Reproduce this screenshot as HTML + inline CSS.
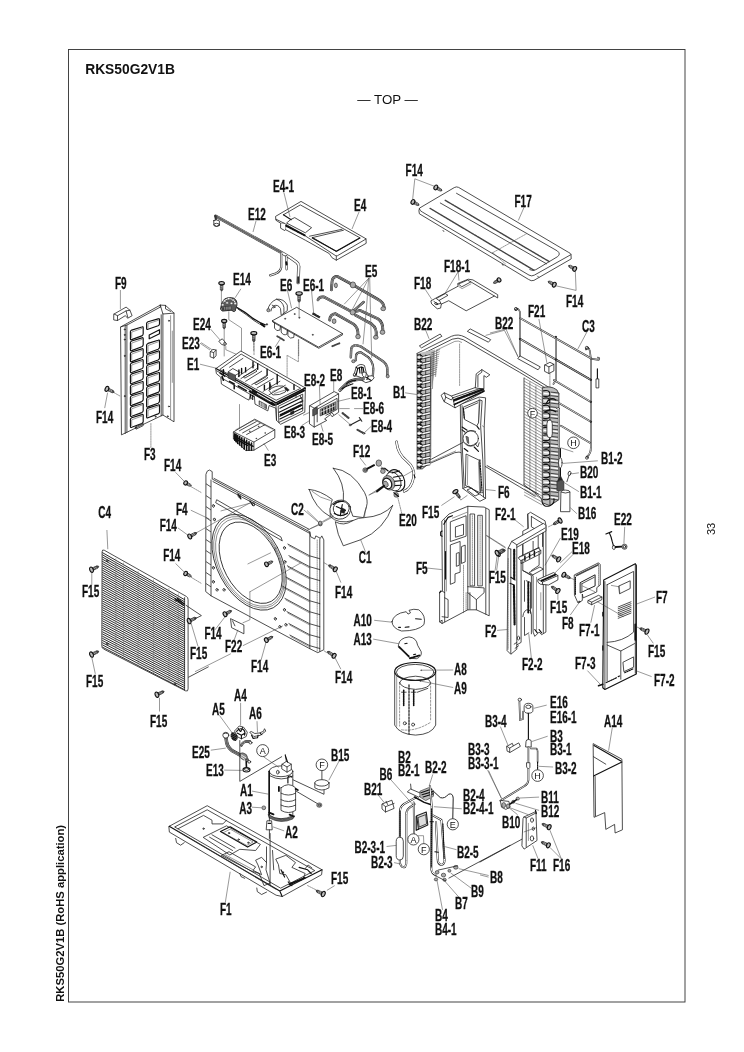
<!DOCTYPE html>
<html><head><meta charset="utf-8"><title>RKS50G2V1B</title>
<style>
html,body{margin:0;padding:0;background:#fff;}
body{width:744px;height:1052px;overflow:hidden;font-family:"Liberation Sans",sans-serif;}
svg{display:block;position:absolute;left:0;top:0;will-change:transform;}
svg text{font-family:"Liberation Sans",sans-serif;fill:#111;}
.l{fill:none;stroke:#222;stroke-width:0.8;stroke-linecap:round;stroke-linejoin:round;}
.t{fill:none;stroke:#444;stroke-width:0.55;stroke-linecap:round;stroke-linejoin:round;}
.k{fill:none;stroke:#111;stroke-width:1.15;stroke-linecap:round;stroke-linejoin:round;}
.w{fill:#fff;stroke:#222;stroke-width:0.8;stroke-linecap:round;stroke-linejoin:round;}
.wk{fill:#fff;stroke:#111;stroke-width:1.15;stroke-linecap:round;stroke-linejoin:round;}
.wt{fill:#fff;stroke:#444;stroke-width:0.55;stroke-linejoin:round;}
.g{fill:#aaa;stroke:#222;stroke-width:0.6;stroke-linejoin:round;}
.gg{fill:#ccc;stroke:#333;stroke-width:0.6;stroke-linejoin:round;}
.d{fill:#222;stroke:#222;stroke-width:0.4;}
.ld{fill:none;stroke:#444;stroke-width:0.55;}
.lb text{font-weight:bold;font-size:16px;stroke:#111;stroke-width:0.3;}
.cl{font-size:9.5px;text-anchor:middle;}
</style></head><body>
<svg width="744" height="1052" viewBox="0 0 744 1052">

<rect x="68.5" y="49.5" width="616.5" height="952.5" fill="none" stroke="#3a3a3a" stroke-width="0.95"/>
<text x="85.2" y="73.7" font-size="13.8" font-weight="bold">RKS50G2V1B</text>
<text x="357.3" y="103.9" font-size="13.3">— TOP —</text>
<text transform="translate(64.4,1001.8) rotate(-90)" font-size="11.25" font-weight="bold">RKS50G2V1B (RoHS application)</text>
<text transform="translate(715.2,535) rotate(-90)" font-size="11">33</text>
<g id="p01_e4">
<path class="w" d="M275.9,216.2 L301,201.4 L366,238.8 L366.2,243.3 L336.3,260.2 L332.1,257.8 L329.3,253.6 L305.3,240.2 L285.5,229.6 L284.8,230.6 L280.6,228.2 L280.6,223.2 L276.2,220.4 Z"/>
<path class="l" d="M276.2,219.3 L284.1,223.2 L305.3,235.9 L335.2,255.4 Q336.3,256.2 337.5,255.7 L366,239"/>
<path class="l" d="M336.3,256 L336.3,260.2"/>
<path class="t" d="M280.6,223.2 L284.1,223.2 M285.5,229.6 L285.8,225.3"/>
<path class="l" d="M283.4,214.8 L300.3,204.9 L360.3,238 L336.3,251.5 L312.3,237.3"/>
<path class="k" d="M283.4,214.8 L291.2,219.7"/>
<path class="l" d="M291.2,219.3 L294.7,217.6 L311.6,227.7 L305.3,232.8 L286.9,223.2 Z"/>
<path class="l" d="M309.5,236.2 L342,229.3 M312.3,237.6 L343.4,230.3"/>
<path class="k" d="M312.3,238 L336.3,251.2 L359.6,238"/>
<path class="k" d="M286.2,225.8 L305.3,235.6" style="stroke-dasharray:1 0.8;stroke-width:2"/>
<path class="ld" d="M284,193L290,217"/>
<path class="ld" d="M359,212L352,229"/>
</g>
<g id="p02_e12">
<path class="l" d="M215.6,216.1 L281.2,252.4 L289.7,257.3 L296.7,262.3 Q299.3,264.4 298.7,267.9 L298.1,282.7" style="stroke-width:3.2;stroke:#333"/>
<path class="l" d="M215.6,216.1 L281.2,252.4 L289.7,257.3 L296.7,262.3 Q299.3,264.4 298.7,267.9 L298.1,282.7" style="stroke-width:1.9;stroke:#fff"/>
<path class="l" d="M215.6,216.1 L281.2,252.4" style="stroke-width:2;stroke:#666;stroke-dasharray:0.6 1.1"/>
<path class="l" d="M281.2,252.8 L281.2,267.2 Q280.5,271.5 275.6,273.6 L270.2,275.4" style="stroke-width:2.2;stroke:#333"/>
<path class="l" d="M281.2,252.8 L281.2,267.2 Q280.5,271.5 275.6,273.6 L270.2,275.4" style="stroke-width:1;stroke:#fff"/>
<path class="l" d="M286.3,256.2 L286.6,269.3" style="stroke-width:2.2;stroke:#333"/>
<path class="l" d="M286.3,256.2 L286.6,269.3" style="stroke-width:1;stroke:#fff"/>
<path class="k" d="M286.3,262.3 L286.6,264.4" style="stroke-width:2"/>
<path class="k" d="M298.1,277.1 L298.1,282.7" style="stroke-width:1.6"/>
<path class="l" d="M215.6,216.1 L216,221.4" style="stroke-width:2.2;stroke:#333"/>
<path class="w" d="M213.8,220.6 L213.8,224.9 Q216.3,227.4 219.4,225.2 L219.4,220.9 Q216.6,219 213.8,220.6 Z"/>
<ellipse class="l" cx="216.6" cy="224.9" rx="2.8" ry="1.6"/>
<path class="ld" d="M256,221L253,232"/>
</g>
<g id="p03_f17">
<path class="w" d="M419.4,208.4 Q418.3,210.5 419.4,213.8 L528.5,279.4 Q531.2,281.5 533.9,280.4 L571.2,258.9 L571,254.6 Q570.4,253 568.8,252.5 L458.6,187.4 Q456.5,186.3 454.6,187.4 Z"/>
<path class="l" d="M419.4,208.9 Q419.9,211.1 422.6,212.2 L529,275.1 Q531.7,276.7 534.4,275.1 L571,254.6"/>
<path class="l" d="M456.5,193.3 L557.3,250.9 Q561.3,254.1 557.3,256.8 L535.8,269.7 Q533.1,271.3 529.8,269.7"/>
<path class="k" d="M445.2,200.3 L549.2,261.6" style="stroke-width:1.4;stroke:#444;stroke-dasharray:1.2 0.5"/>
<path class="l" d="M440.3,203 L546.5,263.8"/>
<path class="k" d="M430.1,208.4 L533.9,270.2" style="stroke-width:1.4;stroke:#444;stroke-dasharray:1.2 0.5"/>
<path class="t" d="M492.7,252.7 L526.3,233.9 M492.7,252.7 L505.4,263.8" style="stroke-dasharray:1 1"/>
<path class="l" d="M443,230.4 L443.8,231.5 M502.2,264.3 L503,265.4 M537.6,276.1 L538.7,277.2"/>
<g transform="translate(435.8,187.4) rotate(28)"><path d="M1,-1.3L5.5,-1.2L7,0L5.5,1.2L1,1.3Z" fill="#555" stroke="#222" stroke-width="0.7"/><path d="M3,-1.3L3.6,1.3M4.6,-1.3L5.2,1.3" stroke="#ddd" stroke-width="0.5" fill="none"/><ellipse cx="0" cy="0" rx="1.7" ry="2.5" fill="#bbb" stroke="#111" stroke-width="1.1"/></g>
<g transform="translate(412.9,201.9) rotate(28)"><path d="M1,-1.3L5.5,-1.2L7,0L5.5,1.2L1,1.3Z" fill="#555" stroke="#222" stroke-width="0.7"/><path d="M3,-1.3L3.6,1.3M4.6,-1.3L5.2,1.3" stroke="#ddd" stroke-width="0.5" fill="none"/><ellipse cx="0" cy="0" rx="1.7" ry="2.5" fill="#bbb" stroke="#111" stroke-width="1.1"/></g>
<g transform="translate(574.7,268.9) rotate(208)"><path d="M1,-1.3L5.5,-1.2L7,0L5.5,1.2L1,1.3Z" fill="#555" stroke="#222" stroke-width="0.7"/><path d="M3,-1.3L3.6,1.3M4.6,-1.3L5.2,1.3" stroke="#ddd" stroke-width="0.5" fill="none"/><ellipse cx="0" cy="0" rx="1.7" ry="2.5" fill="#bbb" stroke="#111" stroke-width="1.1"/></g>
<g transform="translate(554.3,284.7) rotate(208)"><path d="M1,-1.3L5.5,-1.2L7,0L5.5,1.2L1,1.3Z" fill="#555" stroke="#222" stroke-width="0.7"/><path d="M3,-1.3L3.6,1.3M4.6,-1.3L5.2,1.3" stroke="#ddd" stroke-width="0.5" fill="none"/><ellipse cx="0" cy="0" rx="1.7" ry="2.5" fill="#bbb" stroke="#111" stroke-width="1.1"/></g>
<path class="ld" d="M414.8,178.8 L434.4,186.3 M414.8,178.8 L412.6,199.8"/>
<path class="ld" d="M524.2,207 L518.3,220.5"/>
<path class="ld" d="M576.1,290.4 L575.3,270.8 M576.1,290.4 L555.9,285.8"/>
</g>
<g id="p04_f18">
<path class="w" d="M431.2,300.7 L437.3,297.3 L458.1,286.2 L457.7,283.5 L468.2,279.2 L472.9,279.9 L497.7,294.7 L497.7,298 L494.4,296 L466.2,310.8 L448.7,300.7 L441.3,304.1 L440.6,308.1 L437.3,308.8 L431.9,304.1 Z"/>
<path class="l" d="M470.9,281.9 L494.4,296"/>
<path class="l" d="M436.6,298.3 L445.3,293.6 L448,295.3 L439.3,300.3 Z"/>
<path class="l" d="M458.8,283.9 L467.5,280.1 L470.9,281.9 L462.1,286.6 Z"/>
<path class="l" d="M439.3,300.3 L441.3,304.1 M433.9,301.4 L437.9,304.1 L440.6,303.4"/>
<ellipse class="l" cx="436.2" cy="303.7" rx="1.6" ry="0.9" transform="rotate(20 436.2 303.7)"/>
<path class="t" d="M458.8,286.6 L462.1,288.6 L470.9,283.9"/>
<g transform="translate(499.1,279.9) rotate(150)"><path d="M1,-1.3L5,-1.2L6.5,0L5,1.2L1,1.3Z" fill="#555" stroke="#222" stroke-width="0.7"/><path d="M3,-1.3L3.6,1.3M4.6,-1.3L5.2,1.3" stroke="#ddd" stroke-width="0.5" fill="none"/><ellipse cx="0" cy="0" rx="1.7" ry="2.2" fill="#bbb" stroke="#111" stroke-width="1.1"/></g>
<path class="ld" d="M458.1,271.8 L445.3,292.9 M458.1,271.8 L459,280.5"/>
<path class="ld" d="M425.2,289.3 L431.9,299.6"/>
</g>
<g id="p05_e14">
<path class="t" d="M221.4,291.5 L221.4,309 M228.8,311.7 L228.8,319.7 L241.5,328.1 L241.5,364.1 M224.2,329.1 L224.2,356"/>
<g transform="translate(221.6,283.2) rotate(90)"><path d="M1,-1.3L6.5,-1.2L8,0L6.5,1.2L1,1.3Z" fill="#555" stroke="#222" stroke-width="0.7"/><path d="M3,-1.3L3.6,1.3M4.6,-1.3L5.2,1.3" stroke="#ddd" stroke-width="0.5" fill="none"/><ellipse cx="0" cy="0" rx="1.7" ry="2.8" fill="#bbb" stroke="#111" stroke-width="1.1"/></g>
<g transform="translate(224.2,321.1) rotate(90)"><path d="M1,-1.3L6.5,-1.2L8,0L6.5,1.2L1,1.3Z" fill="#555" stroke="#222" stroke-width="0.7"/><path d="M3,-1.3L3.6,1.3M4.6,-1.3L5.2,1.3" stroke="#ddd" stroke-width="0.5" fill="none"/><ellipse cx="0" cy="0" rx="1.7" ry="2.6" fill="#bbb" stroke="#111" stroke-width="1.1"/></g>
<g transform="translate(253.8,333.2) rotate(90)"><path d="M1,-1.3L7.5,-1.2L9,0L7.5,1.2L1,1.3Z" fill="#555" stroke="#222" stroke-width="0.7"/><path d="M3,-1.3L3.6,1.3M4.6,-1.3L5.2,1.3" stroke="#ddd" stroke-width="0.5" fill="none"/><ellipse cx="0" cy="0" rx="1.7" ry="3" fill="#bbb" stroke="#111" stroke-width="1.1"/></g>
<path class="t" d="M253.8,342.6 L253.8,350.6" style="stroke-dasharray:2 1.2"/>
<path class="g" d="M220.6,309 Q221,302.1 224.7,298.9 Q228.7,296.5 233.5,298.1 Q237.6,300.1 236.9,305.3 L235.8,309 L234,311.6 L231.1,310.2 L225.5,310.8 L222.3,311.1 Z" style="fill:#5a5a5a;stroke-width:0.9"/>
<path class="l" d="M223.1,302.1 Q225.5,298.5 229.9,298.5 Q234.4,299 235.6,302.9" style="stroke:#fff;stroke-width:1"/>
<ellipse class="wt" cx="224.7" cy="300.9" rx="1.4" ry="1.1"/>
<ellipse class="wt" cx="228.7" cy="298.7" rx="1.4" ry="1.1"/>
<ellipse class="wt" cx="233.1" cy="300.1" rx="1.4" ry="1.1"/>
<ellipse class="wt" cx="235.2" cy="303.7" rx="1.4" ry="1.1"/>
<ellipse class="wt" cx="222.7" cy="304.9" rx="1.4" ry="1.1"/>
<ellipse class="wt" cx="227.1" cy="302.9" rx="1.4" ry="1.1"/>
<ellipse class="wt" cx="231.5" cy="303.3" rx="1.4" ry="1.1"/>
<path class="g" d="M223.9,306.5 L223.9,310.2 L231.1,309.8 L231.1,306.1 Z" style="fill:#999;stroke-width:0.5"/>
<path class="l" d="M225.5,306.5 L225.5,310.2 M227.1,306.4 L227.1,310 M228.9,306.3 L228.9,309.9" style="stroke:#333;stroke-width:0.7"/>
<ellipse class="w" cx="221.9" cy="309" rx="1" ry="1.1"/>
<ellipse class="w" cx="234.2" cy="310.6" rx="1" ry="1"/>
<path class="k" d="M237.1,307.6 Q244.9,311.7 253,318.4 Q259.7,323.1 265.3,324.8" style="stroke-width:1.3"/>
<path class="l" d="M238.2,309.2 Q246.2,314.4 254.3,320.8 Q259.7,324.4 263.7,326.2"/>
<path class="k" d="M261,323.8 L264.4,326.5" style="stroke-width:2"/>
<ellipse class="d" cx="266.9" cy="324.4" rx="0.8" ry="0.8"/>
<path class="w" d="M219.1,341 L222.3,338.8 L226.1,343.3 L225,345.3 L222,344.6 Z"/>
<ellipse class="g" cx="225" cy="343.7" rx="1.2" ry="1.6" transform="rotate(-30 225 343.7)"/>
<path class="ld" d="M240.9,288.8 L235.1,297.8"/>
<path class="ld" d="M210.6,329.1 L220,339.9"/>
<path class="ld" d="M201.2,342.6 L213.3,350.6"/>
</g>
<g id="p06_e6">
<path class="w" d="M267.8,309.7 Q269.1,302.6 276.5,299.2 Q283.9,298.5 287.3,305.2 L287.3,310.6 L281.2,315.3 L280.5,308.6 Q277.8,303.9 273.8,305.9 Q271.1,307.9 270.9,311"/>
<path class="l" d="M276.5,299.2 Q282.6,301.2 283.9,307.3 L283.9,313.3"/>
<ellipse class="g" cx="268.4" cy="310.2" rx="1.6" ry="1.6"/>
<path class="l" d="M272.2,305.2 L275.2,306.6 M273.1,307.9 L275.2,307.3"/>
<path class="l" d="M274.5,322.7 L274.5,328.1 Q276.5,332.1 279.9,330.1 L280.5,326.1 M281.2,326.7 L281.2,332.1 Q283.5,336.2 287,334.1 L287.3,330.1 M287.9,330.4 L287.9,335.8 Q290.2,339.5 293.7,337.5 L294.2,333.9"/>
<path class="w" d="M272.5,320.7 L296.7,307.3 L342.4,333.5 L318.8,346.9 Z"/>
<path class="l" d="M272.5,320.7 L272.7,322 L318.8,348.3 L342.6,334.8 L342.4,333.5"/>
<ellipse class="d" cx="285.2" cy="318.7" rx="0.8" ry="0.5"/>
<ellipse class="d" cx="294.7" cy="314" rx="0.8" ry="0.5"/>
<ellipse class="d" cx="312.8" cy="334.8" rx="0.8" ry="0.5"/>
<ellipse class="d" cx="299.4" cy="317.7" rx="0.8" ry="0.5"/>
<g transform="translate(299.1,293.5) rotate(90)"><path d="M1,-1.3L7.5,-1.2L9,0L7.5,1.2L1,1.3Z" fill="#555" stroke="#222" stroke-width="0.7"/><path d="M3,-1.3L3.6,1.3M4.6,-1.3L5.2,1.3" stroke="#ddd" stroke-width="0.5" fill="none"/><ellipse cx="0" cy="0" rx="1.7" ry="3.2" fill="#bbb" stroke="#111" stroke-width="1.1"/></g>
<path class="t" d="M299.1,303.2L299.1,316.9"/>
<path class="l" d="M312.5,314 L319.2,317.7 M313.1,313 L319.8,316.8" style="stroke-dasharray:1 0.7;stroke-width:1.1"/>
<path class="l" d="M277.2,336.2 L283.9,340.2" style="stroke-dasharray:1 0.7;stroke-width:1.8;stroke:#444"/>
<path class="l" d="M332.3,346.2 L339.4,343.3" style="stroke-dasharray:1 0.7;stroke-width:1.8;stroke:#444"/>
<path class="ld" d="M287.3,289.8 L291.6,308.2"/>
<path class="ld" d="M311.5,290.5 L313.7,313.3"/>
<path class="ld" d="M275.2,346.9 L280.1,339.2"/>
<path class="t" d="M298.7,339.5 L298.7,355.6" style="stroke-dasharray:1.5 1"/>
</g>
<g id="p07_e5">
<path class="ld" d="M369.1,277.8 L344.2,304.2 M369.1,277.8 L351.2,311.6 M368.7,277.8 L366.4,309.4 L363,344.3 M369.7,277.8 L370.4,309.4 L371.7,357.7"/>
<path class="l" d="M331.4,289.9 L332.1,281.1 Q332.8,276.4 337.5,276.4 L353.6,285.2 L377.8,299.3 Q383.8,302.6 384.2,307.3" style="stroke-width:2.8;stroke:#222"/>
<path class="l" d="M331.4,289.9 L332.1,281.1 Q332.8,276.4 337.5,276.4 L353.6,285.2 L377.8,299.3 Q383.8,302.6 384.2,307.3" style="stroke-width:1.4999999999999998;stroke:#fff"/>
<path class="l" d="M331.4,289.9 L332.1,281.1 Q332.8,276.4 337.5,276.4 L353.6,285.2 L377.8,299.3 Q383.8,302.6 384.2,307.3" style="stroke-width:1.5999999999999999;stroke:#666;stroke-dasharray:0.6 1.1"/>
<ellipse class="g" cx="352.9" cy="284.9" rx="2.7" ry="3"/>
<ellipse class="g" cx="383.2" cy="308.7" rx="2.4" ry="2"/>
<ellipse class="g" cx="335.9" cy="285.4" rx="1.5" ry="2.4"/>
<path class="l" d="M318,299.9 Q319.3,296.2 324,297 L352.3,312" style="stroke-width:2.8;stroke:#222"/>
<path class="l" d="M318,299.9 Q319.3,296.2 324,297 L352.3,312" style="stroke-width:1.4999999999999998;stroke:#fff"/>
<path class="l" d="M318,299.9 Q319.3,296.2 324,297 L352.3,312" style="stroke-width:1.5999999999999999;stroke:#666;stroke-dasharray:0.6 1.1"/>
<path class="l" d="M352.9,311.4 L363.7,302" style="stroke-width:2.4;stroke:#222"/>
<path class="l" d="M352.9,311.4 L363.7,302" style="stroke-width:1.0999999999999999;stroke:#fff"/>
<path class="l" d="M352.9,311.4 L363.7,302" style="stroke-width:1.2;stroke:#666;stroke-dasharray:0.6 1.1"/>
<path class="l" d="M353.6,312 L360.3,310.4 L377.8,318.8 Q383.2,322.1 382.9,330.9" style="stroke-width:2.8;stroke:#222"/>
<path class="l" d="M353.6,312 L360.3,310.4 L377.8,318.8 Q383.2,322.1 382.9,330.9" style="stroke-width:1.4999999999999998;stroke:#fff"/>
<path class="l" d="M353.6,312 L360.3,310.4 L377.8,318.8 Q383.2,322.1 382.9,330.9" style="stroke-width:1.5999999999999999;stroke:#666;stroke-dasharray:0.6 1.1"/>
<ellipse class="g" cx="352.7" cy="312.3" rx="2.6" ry="2.7"/>
<ellipse class="g" cx="382.5" cy="332.2" rx="2.4" ry="2.2"/>
<path class="l" d="M329.7,320.1 Q330.1,314.1 335.5,313.7 L353.6,324.1 Q358.3,327.5 358,334.9" style="stroke-width:2.8;stroke:#222"/>
<path class="l" d="M329.7,320.1 Q330.1,314.1 335.5,313.7 L353.6,324.1 Q358.3,327.5 358,334.9" style="stroke-width:1.4999999999999998;stroke:#fff"/>
<path class="l" d="M329.7,320.1 Q330.1,314.1 335.5,313.7 L353.6,324.1 Q358.3,327.5 358,334.9" style="stroke-width:1.5999999999999999;stroke:#666;stroke-dasharray:0.6 1.1"/>
<ellipse class="g" cx="358" cy="336.6" rx="2.3" ry="2.2"/>
<ellipse class="g" cx="334.1" cy="321.2" rx="1.9" ry="2.4"/>
<path class="l" d="M355.2,315 L371.7,324.1 Q377.1,328.2 376.2,335.6" style="stroke-width:2.8;stroke:#222"/>
<path class="l" d="M355.2,315 L371.7,324.1 Q377.1,328.2 376.2,335.6" style="stroke-width:1.4999999999999998;stroke:#fff"/>
<path class="l" d="M355.2,315 L371.7,324.1 Q377.1,328.2 376.2,335.6" style="stroke-width:1.5999999999999999;stroke:#666;stroke-dasharray:0.6 1.1"/>
<ellipse class="g" cx="375.8" cy="337.3" rx="2.3" ry="2"/>
<path class="l" d="M350.8,357.4 L351.2,349.4 Q351.6,345.3 356.1,345.1 L360.4,346.3 L383,361.2 Q387.3,364.4 387.3,369.2 L387.3,374.6" style="stroke-width:2.4;stroke:#222"/>
<path class="l" d="M350.8,357.4 L351.2,349.4 Q351.6,345.3 356.1,345.1 L360.4,346.3 L383,361.2 Q387.3,364.4 387.3,369.2 L387.3,374.6" style="stroke-width:1.0999999999999999;stroke:#fff"/>
<path class="l" d="M350.8,357.4 L351.2,349.4 Q351.6,345.3 356.1,345.1 L360.4,346.3 L383,361.2 Q387.3,364.4 387.3,369.2 L387.3,374.6" style="stroke-width:1.2;stroke:#666;stroke-dasharray:0.6 1.1"/>
<ellipse class="g" cx="387.7" cy="376.2" rx="1.5" ry="1.7"/>
<ellipse class="g" cx="353.4" cy="361.2" rx="1.7" ry="1.5"/>
<path class="l" d="M355.8,360.3 L356.1,355.3 Q357,352 361,352.4 L368.5,357.4 Q373.3,362.3 373.3,368.7 L372.8,377.3" style="stroke-width:2.2;stroke:#222"/>
<path class="l" d="M355.8,360.3 L356.1,355.3 Q357,352 361,352.4 L368.5,357.4 Q373.3,362.3 373.3,368.7 L372.8,377.3" style="stroke-width:0.9000000000000001;stroke:#fff"/>
<path class="l" d="M355.8,360.3 L356.1,355.3 Q357,352 361,352.4 L368.5,357.4 Q373.3,362.3 373.3,368.7 L372.8,377.3" style="stroke-width:1.0000000000000002;stroke:#666;stroke-dasharray:0.6 1.1"/>
<path class="w" d="M353.8,375.7 L356.1,367.1 Q359.9,362.8 364.5,365.5 L366.3,373 L368.2,376.2 L372.3,375.7 L374.2,377.8 L371.2,381.1 L365.8,382.7 L362,380.5 L360.4,377.3 L357.2,376.2 Z"/>
<path class="k" d="M356.1,367.1 L357.7,368.7 L356.1,375.2 M357.7,368.7 Q360.4,366 363.1,367.6 L364.2,374.1 M359.4,367.6 L359.9,373 M361.5,367.1 L362,372.5"/>
<path class="w" d="M362,373 Q364.2,370.9 366.3,373 Q366.9,376.2 364.2,377.3 Q362,376.2 362,373 Z"/>
<path class="k" d="M365.8,377.3 L371.2,380.5 M368.2,376.2 L366.9,379.5"/>
<ellipse class="w" cx="354.5" cy="374.6" rx="1.1" ry="1.5" transform="rotate(15 354.5 374.6)"/>
<path class="l" d="M363.1,378.9 L356.1,379.7 Q349.7,380.5 345.4,384.8 L340,390.2" style="stroke-width:3.2;stroke:#222"/>
<path class="l" d="M363.1,378.9 L356.1,379.7 Q349.7,380.5 345.4,384.8 L340,390.2" style="stroke-width:1.9000000000000001;stroke:#fff"/>
<path class="l" d="M363.1,378.9 L356.1,379.7 Q349.7,380.5 345.4,384.8 L340,390.2" style="stroke-width:2.0;stroke:#666;stroke-dasharray:0.6 1.1"/>
<path class="k" d="M346.5,383.8 Q349.7,380.5 356.1,380.5 M342.2,388.6 Q346.5,385.9 352.9,383.8" style="stroke-dasharray:1.2 1"/>
</g>
<g id="p08_e1">
<path class="w" d="M210.5,351.6 L212.9,349.4 L216.1,350 L216.1,355.8 L213.7,358.1 L210.5,356.9 Z"/>
<path class="l" d="M210.5,351.6 L213.7,352.6 L216.1,350 M213.7,352.6 L213.7,358.1"/>
<path class="ld" d="M200,343.2 L210,350 M200,364.2 L216.1,368.2"/>
<path class="t" d="M225.8,346.5 L225.8,349.7 L240.3,356.1 L240.3,364.2"/>
<path class="t" d="M239.5,404.5 L239.5,430.3"/>
<path class="t" d="M254,343.2 L254,355.3" style="stroke-dasharray:1.5 1"/>
<path class="t" d="M298.4,340 L298.4,361.8 L287.1,355.3 L287.1,376.3" style="stroke-dasharray:1.5 1"/>
<path class="w" d="M216,368.5 L240.9,351 L305.4,388 L304.8,412.2 L280.6,424.3 L276.5,420.3 L275.9,408.2 L269.1,405.5 L267.8,410.9 L255,404.1 L254.4,396.7 L250.3,394.7 L249,400.1 L246.3,398.8 L221.4,384 L220.8,377.3 L216.7,373.9 Z"/>
<path class="k" d="M216,368.5 L275.9,402.8 L305.4,388" style="stroke-width:1.4"/>
<path class="l" d="M220.1,369.2 L241.2,354.1 L300.7,388.3 L276.5,400.1 Z"/>
<path class="l" d="M216.7,370.8 L275.9,405.2 L305.2,390.4"/>
<path class="l" d="M275.9,402.8 L276.5,420.3 M221.4,377.9 L254.4,396.7"/>
<path class="k" d="M223.4,369.9 L223.4,373.9 M220.1,373.2 L224.8,376.2 M222.1,376.6 L223.4,380.2" style="stroke-width:1.6"/>
<path class="g" d="M228.1,371.9 L228.1,377.9 L235.5,381.3 L235.5,375.2 Z" style="fill:#555"/>
<path class="l" d="M228.1,371.9 L232.8,368.5 L240.2,372.6 L235.5,375.2"/>
<path class="l" d="M229.5,367.2 L242.9,358.4 M238.2,376.6 L254.4,365.2 M240.9,378.6 L242.9,377.3 L257,368.5 M245.6,381.3 L261.7,371.2 M251.7,384.7 L267.1,375.2 M257,388 L273.2,378.6 M263.1,391.4 L279.9,381.3 M269.1,394.7 L285.3,385.3"/>
<path class="l" d="M243.6,376.6 L255.7,369.9 L257,371.2 L245.2,377.9 Z M255,383.3 L266.5,376.6 L267.8,377.9 L256.4,384.7 Z"/>
<path class="k" d="M238.9,369.9 L238.9,376.6 M241.6,368.5 L241.6,373.2 M245.6,367.8 L245.6,371.9 M253,361.8 L253,367.8 M257.7,363.8 L257.7,369.2 M267.1,369.2 L267.1,375.2 M269.8,382.6 L269.8,389.4 M264.4,385.3 L264.4,389.4 M277.2,374.6 L277.2,384 M294,384.7 L294,389.4" style="stroke-width:1.4"/>
<path class="l" d="M269.1,390 Q274.5,385.3 282.6,386 Q287.3,388.7 285.3,392 Q279.9,395.4 273.2,395 Z"/>
<path class="t" d="M272.5,391.4 L282.6,387.3 M274.5,393.4 L285.3,390"/>
<path class="d" d="M284.6,388 L287.3,391.4 L289.3,390 L285.9,386.9 Z"/>
<path class="d" d="M270.5,384 L271.6,387.3 L269.8,388 Z"/>
<path class="k" d="M229.5,381.3 L234.2,384 M234.2,385.3 L234.2,388.7 M238.2,386 L246.3,390.7" style="stroke-width:1.5"/>
<path class="k" d="M249.7,391.4 L273.2,404.8" style="stroke-width:2"/>
<path class="k" d="M250.3,394.1 L251,398.8 M252.7,395.4 L252.7,399.4"/>
<path class="g" d="M259.1,400.8 L266.5,404.8 L266.5,408.8 L259.1,404.8 Z" style="fill:#777"/>
<path class="l" d="M260.4,402.1 L260.4,406.2 M262.2,403.1 L262.2,407.1 M263.8,403.9 L263.8,407.9" style="stroke:#fff;stroke-width:0.6"/>
<path class="k" d="M253,390.7 L256.4,392.7 M271.2,402.8 L274.5,404.8" style="stroke-width:2.2"/>
<path class="l" d="M278.5,406.2 L302.7,394.1 L302.7,410.9 L279.2,422.3 Z"/>
<path class="k" d="M279.9,408.2 L301.4,397.7 M279.2,412.2 L302.7,400.8 M279.9,416.2 L302.1,405.2 M279.9,418.9 L302.7,407.9"/>
<path class="k" d="M280.6,414.9 L301.4,404.8" style="stroke-width:2;stroke-dasharray:1 0.8"/>
<path class="k" d="M277.2,404.1 L304.1,390.4" style="stroke-width:1.8"/>
<path class="l" d="M300.1,395.4 L302.7,401.5 L300.3,402.8 M296,393.4 L296,397.4"/>
<path class="d" d="M290.6,411.9 L294,410.6 L294,413.5 L290.6,414.9 Z"/>
</g>
<g id="p09_e3">
<path class="w" d="M233.7,431.8 L254.7,419.2 L274.8,429.7 L274.8,437.7 L253.9,450.2 L245.8,450.6 L233.7,439.4 Z"/>
<path class="l" d="M233.7,431.8 L253.9,442.1 L274.8,429.7 M253.9,442.1 L253.9,450.2"/>
<path class="l" d="M239.4,430.8 L256.3,421.6 M246.6,434.5 L264.8,424.8 M242.6,432.9 L260.3,423.2"/>
<path class="t" d="M235.8,429.7 L254.7,420 L272.4,429.2"/>
<path class="k" d="M234.8,433.7 L234.8,440.2 M236.1,434.5 L236.1,441.8 M237.7,435.6 L237.7,443.4 M239.7,436.6 L239.7,445 M241.8,437.9 L241.8,446.9 M244.2,438.9 L244.2,449 M246.6,440.2 L246.6,450.3 M249,441.8 L249,450.3 M251.5,443.1 L251.5,450.3" style="stroke-width:1.6"/>
<path class="k" d="M234.2,436.1 L253.1,446.3 M234.2,438.2 L247.4,445.3" style="stroke-width:1.5"/>
<ellipse class="d" cx="249.8" cy="431.3" rx="0.5" ry="0.5"/>
<ellipse class="d" cx="258.7" cy="426.5" rx="0.5" ry="0.5"/>
<ellipse class="d" cx="256.3" cy="438.5" rx="0.5" ry="0.5"/>
<ellipse class="d" cx="265.2" cy="432.9" rx="0.5" ry="0.5"/>
<path class="ld" d="M268.4,450.6 L263.9,443.4"/>
</g>
<g id="p10_e8">
<path class="w" d="M309.8,405.7 L334.2,391.6 L338.6,393.8 L338.6,412.3 L332,416.7 L330.5,414.5 L324.6,419 L326.8,420.4 L314.2,427.1 L309.8,424.1 Z"/>
<path class="l" d="M309.8,405.7 L314.2,408.2 L338.6,393.8 M314.2,408.2 L314.2,427.1"/>
<path class="l" d="M314.2,410.8 L337.1,398.3 L337.1,409.4 L329.7,413.5 M317.2,421.9 L317.2,409.4"/>
<path class="g" d="M312.7,409.4 L317.2,407.1 L317.2,413.8 L312.7,416 Z" style="fill:#555"/>
<path class="g" d="M320.1,409.4 L335.7,401.7 L335.7,409.4 L320.1,416 Z" style="fill:#999"/>
<path class="k" d="M322.4,409.4 L322.4,414.5 M325.3,407.9 L325.3,413.5 M328.3,406.4 L328.3,412 M331.2,404.9 L331.2,410.8 M333.7,403.7 L333.7,409.7"/>
<path class="k" d="M320.9,412 L334.9,405.7" style="stroke:#fff;stroke-width:0.7"/>
<path class="l" d="M326,415.3 L331.2,412.6 L333.7,414.5"/>
<path class="l" d="M342.6,413.1 L348.5,417.9" style="stroke-width:2.2;stroke:#444;stroke-dasharray:0.8 0.6"/>
<path class="l" d="M350.4,424.9 L360.8,419.4 M359.3,417.5 L361.8,421.2" style="stroke-width:1.1"/>
<ellipse class="w" cx="350.1" cy="425" rx="0.9" ry="0.9"/>
<path class="l" d="M357.4,429.8 L363.3,433" style="stroke-width:2;stroke:#444;stroke-dasharray:0.8 0.6"/>
<ellipse class="w" cx="363.9" cy="433.3" rx="0.9" ry="0.9"/>
<path class="ld" d="M319.4,385 L320.1,404.9 M333.7,379.8 L333.7,391.9 M350.4,398.3 L337.1,401.5 M363,408.6 L354.1,408.6 M349.7,408.6 L339.4,408.6 M371.1,426.4 L364.8,432.3 M323.1,431.5 L320.9,424.1 M301.7,425.6 L309.8,420.4 M303.1,415.3 L309.8,412.3 M338.6,414.5 L349.7,424.1"/>
</g>
<g id="p11_f3">
<path class="w" d="M120.9,326.8 L160.3,305.1 L165.5,305.4 L174,313.1 L174,421.8 L162.9,415 L121.8,434.7 Z"/>
<path class="l" d="M162.9,314 L162.9,415 M161.2,314.8 L161.2,415.8 M160.3,305.1 L162.9,314 L174,313.1 M126.9,325.1 L126.9,432.4 M125.2,325.9 L125.2,433.5 M120.9,326.8 L126.9,325.1 L160.3,307.1"/>
<path class="t" d="M170.6,315.7 L170.6,419.2 M172.3,331.1 L172.3,382.4"/>
<path class="l" d="M165.5,305.4 L165.5,308.8 L170.6,311.4 M160.3,305.1 L160.3,307.1"/>
<path class="k" d="M130.4,331.8 Q130.4,330.7 131.7,330.1 L141.8,327 Q143.2,326.3 143.2,327.7 L143.2,333.8 Q143.2,335.2 141.8,335.9 L131.7,339.6 Q130.4,340.3 130.4,339 Z"/>
<path class="t" d="M131.7,337.9 L131.7,332.1 L142.2,328.3"/>
<path class="k" d="M130.4,342.7 Q130.4,341.7 131.7,341 L141.8,337.9 Q143.2,337.2 143.2,338.6 L143.2,344.8 Q143.2,346.1 141.8,346.8 L131.7,350.6 Q130.4,351.3 130.4,349.9 Z"/>
<path class="t" d="M131.7,348.9 L131.7,343.1 L142.2,339.3"/>
<path class="k" d="M130.4,353.7 Q130.4,352.7 131.7,352 L141.8,348.9 Q143.2,348.2 143.2,349.6 L143.2,355.7 Q143.2,357.1 141.8,357.8 L131.7,361.6 Q130.4,362.2 130.4,360.9 Z"/>
<path class="t" d="M131.7,359.8 L131.7,354 L142.2,350.3"/>
<path class="k" d="M130.4,364.6 Q130.4,363.6 131.7,362.9 L141.8,359.8 Q143.2,359.2 143.2,360.5 L143.2,366.7 Q143.2,368.1 141.8,368.7 L131.7,372.5 Q130.4,373.2 130.4,371.8 Z"/>
<path class="t" d="M131.7,370.8 L131.7,365 L142.2,361.2"/>
<path class="k" d="M130.4,375.6 Q130.4,374.6 131.7,373.9 L141.8,370.8 Q143.2,370.1 143.2,371.5 L143.2,377.6 Q143.2,379 141.8,379.7 L131.7,383.5 Q130.4,384.2 130.4,382.8 Z"/>
<path class="t" d="M131.7,381.8 L131.7,375.9 L142.2,372.2"/>
<path class="k" d="M130.4,386.5 Q130.4,385.5 131.7,384.8 L141.8,381.8 Q143.2,381.1 143.2,382.4 L143.2,388.6 Q143.2,390 141.8,390.7 L131.7,394.4 Q130.4,395.1 130.4,393.7 Z"/>
<path class="t" d="M131.7,392.7 L131.7,386.9 L142.2,383.1"/>
<path class="k" d="M130.4,397.5 Q130.4,396.5 131.7,395.8 L141.8,392.7 Q143.2,392 143.2,393.4 L143.2,399.6 Q143.2,400.9 141.8,401.6 L131.7,405.4 Q130.4,406.1 130.4,404.7 Z"/>
<path class="t" d="M131.7,403.7 L131.7,397.8 L142.2,394.1"/>
<path class="k" d="M130.4,408.5 Q130.4,407.4 131.7,406.7 L141.8,403.7 Q143.2,403 143.2,404.4 L143.2,410.5 Q143.2,411.9 141.8,412.6 L131.7,416.3 Q130.4,417 130.4,415.6 Z"/>
<path class="t" d="M131.7,414.6 L131.7,408.8 L142.2,405"/>
<path class="k" d="M130.4,419.4 Q130.4,418.4 131.7,417.7 L141.8,414.6 Q143.2,413.9 143.2,415.3 L143.2,421.5 Q143.2,422.8 141.8,423.5 L131.7,427.3 Q130.4,428 130.4,426.6 Z"/>
<path class="t" d="M131.7,425.6 L131.7,419.8 L142.2,416"/>
<path class="k" d="M146.6,345.1 Q146.6,344.1 148,343.4 L158.1,340.3 Q159.5,339.6 159.5,341 L159.5,347.2 Q159.5,348.5 158.1,349.2 L148,353 Q146.6,353.7 146.6,352.3 Z"/>
<path class="t" d="M148,351.3 L148,345.5 L158.4,341.7"/>
<path class="k" d="M146.6,355.9 Q146.6,354.9 148,354.2 L158.1,351.1 Q159.5,350.4 159.5,351.8 L159.5,358 Q159.5,359.3 158.1,360 L148,363.8 Q146.6,364.5 146.6,363.1 Z"/>
<path class="t" d="M148,362.1 L148,356.2 L158.4,352.5"/>
<path class="k" d="M146.6,366.7 Q146.6,365.7 148,365 L158.1,361.9 Q159.5,361.2 159.5,362.6 L159.5,368.7 Q159.5,370.1 158.1,370.8 L148,374.6 Q146.6,375.2 146.6,373.9 Z"/>
<path class="t" d="M148,372.9 L148,367 L158.4,363.3"/>
<path class="k" d="M146.6,377.5 Q146.6,376.4 148,375.8 L158.1,372.7 Q159.5,372 159.5,373.4 L159.5,379.5 Q159.5,380.9 158.1,381.6 L148,385.3 Q146.6,386 146.6,384.7 Z"/>
<path class="t" d="M148,383.6 L148,377.8 L158.4,374.1"/>
<path class="k" d="M146.6,388.3 Q146.6,387.2 148,386.5 L158.1,383.5 Q159.5,382.8 159.5,384.2 L159.5,390.3 Q159.5,391.7 158.1,392.4 L148,396.1 Q146.6,396.8 146.6,395.4 Z"/>
<path class="t" d="M148,394.4 L148,388.6 L158.4,384.8"/>
<path class="k" d="M146.6,399 Q146.6,398 148,397.3 L158.1,394.3 Q159.5,393.6 159.5,394.9 L159.5,401.1 Q159.5,402.5 158.1,403.2 L148,406.9 Q146.6,407.6 146.6,406.2 Z"/>
<path class="t" d="M148,405.2 L148,399.4 L158.4,395.6"/>
<path class="k" d="M146.6,409.8 Q146.6,408.8 148,408.1 L158.1,405 Q159.5,404.4 159.5,405.7 L159.5,411.9 Q159.5,413.3 158.1,413.9 L148,417.7 Q146.6,418.4 146.6,417 Z"/>
<path class="t" d="M148,416 L148,410.2 L158.4,406.4"/>
<path class="k" d="M146.6,323.4 Q146.6,322.4 148,321.7 L158.1,318.9 Q159.5,318.2 159.5,319.6 L159.5,323.7 Q159.5,325.1 158.1,325.8 L148,329.2 Q146.6,329.9 146.6,328.5 Z"/>
<path class="t" d="M148,327.5 L148,323.7 L158.4,320.3"/>
<path class="k" d="M149.2,334.9 L159.5,329.7 L159.5,333.7 L151.8,337.6 L149.2,338.8 Z"/>
<ellipse class="l" cx="124.7" cy="329.4" rx="0.5" ry="0.5"/>
<ellipse class="l" cx="124.7" cy="334.9" rx="0.5" ry="0.5"/>
<ellipse class="l" cx="124.7" cy="339.6" rx="0.5" ry="0.5"/>
<ellipse class="l" cx="124.7" cy="355.9" rx="0.5" ry="0.5"/>
<ellipse class="l" cx="124.7" cy="396.1" rx="0.5" ry="0.5"/>
<ellipse class="l" cx="168.9" cy="320.8" rx="0.5" ry="0.5"/>
<ellipse class="l" cx="168.9" cy="406.4" rx="0.5" ry="0.5"/>
<ellipse class="l" cx="167.7" cy="416.3" rx="0.5" ry="0.5"/>
<ellipse class="l" cx="155.5" cy="416.7" rx="0.5" ry="0.5"/>
<ellipse class="l" cx="135.8" cy="427.8" rx="0.5" ry="0.5"/>
<path class="l" d="M135.5,426.9 L143.2,423.5 L143.2,425.6 L136.4,429 Z"/>
<path class="w" d="M114.1,314 L126.1,307.1 L129.9,310.2 L132.1,315.7 L127.8,318.2 L125.2,315.7 L117.5,320.5 L114.1,320 Z"/>
<path class="l" d="M114.1,314 L117.5,315.7 L117.5,320.5 M117.5,315.7 L126.1,310.9 L129.9,310.2 M126.1,310.9 L127.8,317.4"/>
<path class="ld" d="M120.4,290 L120.4,309.2"/>
<g transform="translate(106.9,388.9) rotate(25)"><path d="M1,-1.3L6.5,-1.2L8,0L6.5,1.2L1,1.3Z" fill="#555" stroke="#222" stroke-width="0.7"/><path d="M3,-1.3L3.6,1.3M4.6,-1.3L5.2,1.3" stroke="#ddd" stroke-width="0.5" fill="none"/><ellipse cx="0" cy="0" rx="1.7" ry="2.6" fill="#bbb" stroke="#111" stroke-width="1.1"/></g>
<path class="t" d="M114.1,392.7 L120.1,396.1" style="stroke-dasharray:1.5 1"/>
<path class="ld" d="M107.6,392.7 L104.7,408.1"/>
<path class="t" d="M150.9,423.5 L150.9,448.3" style="stroke-dasharray:1.5 1"/>
</g>
<g id="p12_b1">
<path class="l" d="M417.1,353.4 L451.4,336.3 Q458.2,333.4 465,337.1 L519.8,369.6 L559.2,393.6"/>
<path class="l" d="M419.7,355.4 L452.2,339.2 Q458.2,336.8 463.7,339.9 L519.8,372.4 L557.5,395.3"/>
<path class="t" d="M436.8,350 L454.8,341.4 Q458.2,340.2 461.6,342.3"/>
<path class="l" d="M417.1,468.9 L454.8,452.7 Q459.1,451 463.3,453.5 L519.8,486.9 L535.2,496.3"/>
<path class="t" d="M430,462.4 L455.6,451"/>
<path class="w" d="M419.7,345.7 L440.2,334 L441.9,336.3 L421.9,347.7 Z"/>
<path class="w" d="M467.6,331.1 L470.2,328.9 L490.7,339.7 L488.7,341.9 Z"/>
<path class="g" d="M417.1,353.4 L435.1,349.4 L434.2,376.5 L430.5,391.9 L430,462.4 L422.3,468.9 L417.1,468.9 Z" style="fill:#bdbdbd;stroke:none"/>
<path class="l" d="M417.1,353.4 L417.1,468.9 L422.3,468.9 L430,462.4 L430.8,356.8"/>
<path class="l" d="M420.5,354.2 L420.5,468.6 M425.7,355.1 L425.7,465.5"/>
<path class="k" d="M417.5,355.1 Q420.2,354.1 421.9,355.8 L421.9,358.9 Q420.2,360.2 417.5,359.2"/>
<path class="l" d="M422.6,356.5 L430,354.8 M422.6,358.9 L430,357.1"/>
<path class="l" d="M422.9,357.7 L429.4,355.9" style="stroke:#fff;stroke-width:1.2"/>
<path class="l" d="M418.1,357.1 L421.2,357.1" style="stroke:#fff;stroke-width:1.4"/>
<path class="k" d="M417.5,361.4 Q420.2,360.4 421.9,362.1 L421.9,365.2 Q420.2,366.6 417.5,365.5"/>
<path class="l" d="M422.6,362.8 L430,361.1 M422.6,365.2 L430,363.5"/>
<path class="l" d="M422.9,364 L429.4,362.3" style="stroke:#fff;stroke-width:1.2"/>
<path class="l" d="M418.1,363.5 L421.2,363.5" style="stroke:#fff;stroke-width:1.4"/>
<path class="k" d="M417.5,367.8 Q420.2,366.7 421.9,368.4 L421.9,371.5 Q420.2,372.9 417.5,371.9"/>
<path class="l" d="M422.6,369.1 L430,367.4 M422.6,371.5 L430,369.8"/>
<path class="l" d="M422.9,370.3 L429.4,368.6" style="stroke:#fff;stroke-width:1.2"/>
<path class="l" d="M418.1,369.8 L421.2,369.8" style="stroke:#fff;stroke-width:1.4"/>
<path class="k" d="M417.5,374.1 Q420.2,373.1 421.9,374.8 L421.9,377.9 Q420.2,379.2 417.5,378.2"/>
<path class="l" d="M422.6,375.5 L430,373.8 M422.6,377.9 L430,376.1"/>
<path class="l" d="M422.9,376.7 L429.4,375" style="stroke:#fff;stroke-width:1.2"/>
<path class="l" d="M418.1,376.1 L421.2,376.1" style="stroke:#fff;stroke-width:1.4"/>
<path class="k" d="M417.5,380.4 Q420.2,379.4 421.9,381.1 L421.9,384.2 Q420.2,385.6 417.5,384.5"/>
<path class="l" d="M422.6,381.8 L430,380.1 M422.6,384.2 L430,382.5"/>
<path class="l" d="M422.9,383 L429.4,381.3" style="stroke:#fff;stroke-width:1.2"/>
<path class="l" d="M418.1,382.5 L421.2,382.5" style="stroke:#fff;stroke-width:1.4"/>
<path class="k" d="M417.5,386.8 Q420.2,385.7 421.9,387.4 L421.9,390.5 Q420.2,391.9 417.5,390.9"/>
<path class="l" d="M422.6,388.1 L430,386.4 M422.6,390.5 L430,388.8"/>
<path class="l" d="M422.9,389.3 L429.4,387.6" style="stroke:#fff;stroke-width:1.2"/>
<path class="l" d="M418.1,388.8 L421.2,388.8" style="stroke:#fff;stroke-width:1.4"/>
<path class="k" d="M417.5,393.1 Q420.2,392.1 421.9,393.8 L421.9,396.9 Q420.2,398.2 417.5,397.2"/>
<path class="l" d="M422.6,394.5 L430,392.8 M422.6,396.9 L430,395.1"/>
<path class="l" d="M422.9,395.7 L429.4,394" style="stroke:#fff;stroke-width:1.2"/>
<path class="l" d="M418.1,395.1 L421.2,395.1" style="stroke:#fff;stroke-width:1.4"/>
<path class="k" d="M417.5,399.4 Q420.2,398.4 421.9,400.1 L421.9,403.2 Q420.2,404.6 417.5,403.5"/>
<path class="l" d="M422.6,400.8 L430,399.1 M422.6,403.2 L430,401.5"/>
<path class="l" d="M422.9,402 L429.4,400.3" style="stroke:#fff;stroke-width:1.2"/>
<path class="l" d="M418.1,401.5 L421.2,401.5" style="stroke:#fff;stroke-width:1.4"/>
<path class="k" d="M417.5,405.8 Q420.2,404.7 421.9,406.4 L421.9,409.5 Q420.2,410.9 417.5,409.9"/>
<path class="l" d="M422.6,407.1 L430,405.4 M422.6,409.5 L430,407.8"/>
<path class="l" d="M422.9,408.3 L429.4,406.6" style="stroke:#fff;stroke-width:1.2"/>
<path class="l" d="M418.1,407.8 L421.2,407.8" style="stroke:#fff;stroke-width:1.4"/>
<path class="k" d="M417.5,412.1 Q420.2,411.1 421.9,412.8 L421.9,415.9 Q420.2,417.2 417.5,416.2"/>
<path class="l" d="M422.6,413.5 L430,411.8 M422.6,415.9 L430,414.2"/>
<path class="l" d="M422.9,414.7 L429.4,413" style="stroke:#fff;stroke-width:1.2"/>
<path class="l" d="M418.1,414.2 L421.2,414.2" style="stroke:#fff;stroke-width:1.4"/>
<path class="k" d="M417.5,418.4 Q420.2,417.4 421.9,419.1 L421.9,422.2 Q420.2,423.6 417.5,422.5"/>
<path class="l" d="M422.6,419.8 L430,418.1 M422.6,422.2 L430,420.5"/>
<path class="l" d="M422.9,421 L429.4,419.3" style="stroke:#fff;stroke-width:1.2"/>
<path class="l" d="M418.1,420.5 L421.2,420.5" style="stroke:#fff;stroke-width:1.4"/>
<path class="k" d="M417.5,424.8 Q420.2,423.7 421.9,425.4 L421.9,428.5 Q420.2,429.9 417.5,428.9"/>
<path class="l" d="M422.6,426.1 L430,424.4 M422.6,428.5 L430,426.8"/>
<path class="l" d="M422.9,427.3 L429.4,425.6" style="stroke:#fff;stroke-width:1.2"/>
<path class="l" d="M418.1,426.8 L421.2,426.8" style="stroke:#fff;stroke-width:1.4"/>
<path class="k" d="M417.5,431.1 Q420.2,430.1 421.9,431.8 L421.9,434.9 Q420.2,436.2 417.5,435.2"/>
<path class="l" d="M422.6,432.5 L430,430.8 M422.6,434.9 L430,433.2"/>
<path class="l" d="M422.9,433.7 L429.4,432" style="stroke:#fff;stroke-width:1.2"/>
<path class="l" d="M418.1,433.2 L421.2,433.2" style="stroke:#fff;stroke-width:1.4"/>
<path class="k" d="M417.5,437.4 Q420.2,436.4 421.9,438.1 L421.9,441.2 Q420.2,442.6 417.5,441.5"/>
<path class="l" d="M422.6,438.8 L430,437.1 M422.6,441.2 L430,439.5"/>
<path class="l" d="M422.9,440 L429.4,438.3" style="stroke:#fff;stroke-width:1.2"/>
<path class="l" d="M418.1,439.5 L421.2,439.5" style="stroke:#fff;stroke-width:1.4"/>
<path class="k" d="M417.5,443.8 Q420.2,442.7 421.9,444.5 L421.9,447.5 Q420.2,448.9 417.5,447.9"/>
<path class="l" d="M422.6,445.1 L430,443.4 M422.6,447.5 L430,445.8"/>
<path class="l" d="M422.9,446.3 L429.4,444.6" style="stroke:#fff;stroke-width:1.2"/>
<path class="l" d="M418.1,445.8 L421.2,445.8" style="stroke:#fff;stroke-width:1.4"/>
<path class="k" d="M417.5,450.1 Q420.2,449.1 421.9,450.8 L421.9,453.9 Q420.2,455.2 417.5,454.2"/>
<path class="l" d="M422.6,451.5 L430,449.8 M422.6,453.9 L430,452.2"/>
<path class="l" d="M422.9,452.7 L429.4,451" style="stroke:#fff;stroke-width:1.2"/>
<path class="l" d="M418.1,452.2 L421.2,452.2" style="stroke:#fff;stroke-width:1.4"/>
<path class="k" d="M417.5,456.4 Q420.2,455.4 421.9,457.1 L421.9,460.2 Q420.2,461.6 417.5,460.5"/>
<path class="l" d="M422.6,457.8 L430,456.1 M422.6,460.2 L430,458.5"/>
<path class="l" d="M422.9,459 L429.4,457.3" style="stroke:#fff;stroke-width:1.2"/>
<path class="l" d="M418.1,458.5 L421.2,458.5" style="stroke:#fff;stroke-width:1.4"/>
<path class="k" d="M417.5,462.8 Q420.2,461.7 421.9,463.5 L421.9,466.5 Q420.2,467.9 417.5,466.9"/>
<path class="l" d="M422.6,464.1 L430,462.4 M422.6,466.5 L430,464.8"/>
<path class="l" d="M422.9,465.3 L429.4,463.6" style="stroke:#fff;stroke-width:1.2"/>
<path class="l" d="M418.1,464.8 L421.2,464.8" style="stroke:#fff;stroke-width:1.4"/>
<path class="t" d="M431.2,353L439.7,349.6"/>
<path class="t" d="M431.2,355.1L439.4,351.8"/>
<path class="t" d="M431.2,357.1L439,354.1"/>
<path class="t" d="M431.2,359.2L438.7,356.3"/>
<path class="t" d="M431.2,361.3L438.3,358.5"/>
<path class="t" d="M431.2,363.3L438,360.7"/>
<path class="t" d="M431.2,365.4L437.7,363"/>
<path class="t" d="M431.2,367.4L437.3,365.2"/>
<path class="t" d="M431.2,369.5L437,367.4"/>
<path class="t" d="M431.2,371.5L436.6,369.6"/>
<path class="t" d="M431.2,373.6L436.3,371.9"/>
<path class="t" d="M431.2,375.6L435.9,374.1"/>
<path class="t" d="M436.8,350 L435.6,376.5 M433.4,352.5 L432.5,388.5 M431.2,388.5 L430.8,456.9"/>
<path class="t" d="M459.6,344 L459.6,385.9" style="stroke-dasharray:1.5 1"/>
<path class="ld" d="M405.1,392.8 L416.8,394.5"/>
<path class="ld" d="M425.7,330.3 L429.1,338.8 M504.4,330.3 L485.6,335.4 M504.4,330.3 L518.1,356.8"/>
<path class="g" d="M542.3,387.9 Q549.9,384.9 556.9,389.9 L558.9,393.9 L558.9,499.7 L549.9,505.7 L542.3,502.7 Z" style="fill:#bdbdbd;stroke:none"/>
<path class="l" d="M542.3,387.9 Q549.9,384.9 556.9,389.9 L558.9,393.9 L558.9,499.7 L549.9,505.7 L542.3,502.7 L540.9,497.7 L524,484.7"/>
<path class="l" d="M542.3,387.9 L542.3,502.1 M524,377.9 L524,484.7 M549.9,393.9 L549.9,504.7"/>
<path class="k" d="M543.5,390.9 Q547.9,389.7 549.5,392.1 L549.5,395.3 Q547.9,396.9 543.5,396.1"/>
<path class="l" d="M550.9,392.1 L557.9,392.9 M550.9,395.7 L557.9,396.5"/>
<path class="l" d="M544.3,393.5 L548.7,393.9" style="stroke:#fff;stroke-width:1.4"/>
<path class="l" d="M551.1,393.9 L557.5,394.7" style="stroke:#fff;stroke-width:1.1"/>
<path class="k" d="M543.5,398.3 Q547.9,397.1 549.5,399.5 L549.5,402.7 Q547.9,404.3 543.5,403.5"/>
<path class="l" d="M550.9,399.5 L557.9,400.3 M550.9,403.1 L557.9,403.9"/>
<path class="l" d="M544.3,400.9 L548.7,401.3" style="stroke:#fff;stroke-width:1.4"/>
<path class="l" d="M551.1,401.3 L557.5,402.1" style="stroke:#fff;stroke-width:1.1"/>
<path class="k" d="M543.5,405.6 Q547.9,404.5 549.5,406.8 L549.5,410 Q547.9,411.6 543.5,410.8"/>
<path class="l" d="M550.9,406.8 L557.9,407.6 M550.9,410.4 L557.9,411.2"/>
<path class="l" d="M544.3,408.2 L548.7,408.6" style="stroke:#fff;stroke-width:1.4"/>
<path class="l" d="M551.1,408.6 L557.5,409.4" style="stroke:#fff;stroke-width:1.1"/>
<path class="k" d="M543.5,413 Q547.9,411.8 549.5,414.2 L549.5,417.4 Q547.9,419 543.5,418.2"/>
<path class="l" d="M550.9,414.2 L557.9,415 M550.9,417.8 L557.9,418.6"/>
<path class="l" d="M544.3,415.6 L548.7,416" style="stroke:#fff;stroke-width:1.4"/>
<path class="l" d="M551.1,416 L557.5,416.8" style="stroke:#fff;stroke-width:1.1"/>
<path class="k" d="M543.5,420.4 Q547.9,419.2 549.5,421.6 L549.5,424.8 Q547.9,426.4 543.5,425.6"/>
<path class="l" d="M550.9,421.6 L557.9,422.4 M550.9,425.2 L557.9,426"/>
<path class="l" d="M544.3,423 L548.7,423.4" style="stroke:#fff;stroke-width:1.4"/>
<path class="l" d="M551.1,423.4 L557.5,424.2" style="stroke:#fff;stroke-width:1.1"/>
<path class="k" d="M543.5,427.8 Q547.9,426.6 549.5,429 L549.5,432.2 Q547.9,433.8 543.5,433"/>
<path class="l" d="M550.9,429 L557.9,429.8 M550.9,432.6 L557.9,433.4"/>
<path class="l" d="M544.3,430.4 L548.7,430.8" style="stroke:#fff;stroke-width:1.4"/>
<path class="l" d="M551.1,430.8 L557.5,431.6" style="stroke:#fff;stroke-width:1.1"/>
<path class="k" d="M543.5,435.2 Q547.9,434 549.5,436.4 L549.5,439.6 Q547.9,441.2 543.5,440.4"/>
<path class="l" d="M550.9,436.4 L557.9,437.2 M550.9,440 L557.9,440.8"/>
<path class="l" d="M544.3,437.8 L548.7,438.2" style="stroke:#fff;stroke-width:1.4"/>
<path class="l" d="M551.1,438.2 L557.5,439" style="stroke:#fff;stroke-width:1.1"/>
<path class="k" d="M543.5,442.6 Q547.9,441.4 549.5,443.8 L549.5,447 Q547.9,448.6 543.5,447.8"/>
<path class="l" d="M550.9,443.8 L557.9,444.6 M550.9,447.4 L557.9,448.2"/>
<path class="l" d="M544.3,445.2 L548.7,445.6" style="stroke:#fff;stroke-width:1.4"/>
<path class="l" d="M551.1,445.6 L557.5,446.4" style="stroke:#fff;stroke-width:1.1"/>
<path class="k" d="M543.5,450 Q547.9,448.8 549.5,451.2 L549.5,454.4 Q547.9,456 543.5,455.2"/>
<path class="l" d="M550.9,451.2 L557.9,452 M550.9,454.8 L557.9,455.6"/>
<path class="l" d="M544.3,452.6 L548.7,453" style="stroke:#fff;stroke-width:1.4"/>
<path class="l" d="M551.1,453 L557.5,453.8" style="stroke:#fff;stroke-width:1.1"/>
<path class="k" d="M543.5,457.4 Q547.9,456.2 549.5,458.6 L549.5,461.8 Q547.9,463.4 543.5,462.6"/>
<path class="l" d="M550.9,458.6 L557.9,459.4 M550.9,462.2 L557.9,463"/>
<path class="l" d="M544.3,460 L548.7,460.4" style="stroke:#fff;stroke-width:1.4"/>
<path class="l" d="M551.1,460.4 L557.5,461.2" style="stroke:#fff;stroke-width:1.1"/>
<path class="k" d="M543.5,464.8 Q547.9,463.6 549.5,466 L549.5,469.2 Q547.9,470.8 543.5,470"/>
<path class="l" d="M550.9,466 L557.9,466.8 M550.9,469.6 L557.9,470.4"/>
<path class="l" d="M544.3,467.4 L548.7,467.8" style="stroke:#fff;stroke-width:1.4"/>
<path class="l" d="M551.1,467.8 L557.5,468.6" style="stroke:#fff;stroke-width:1.1"/>
<path class="k" d="M543.5,472.2 Q547.9,471 549.5,473.4 L549.5,476.5 Q547.9,478.1 543.5,477.3"/>
<path class="l" d="M550.9,473.4 L557.9,474.2 M550.9,476.9 L557.9,477.7"/>
<path class="l" d="M544.3,474.8 L548.7,475.1" style="stroke:#fff;stroke-width:1.4"/>
<path class="l" d="M551.1,475.1 L557.5,475.9" style="stroke:#fff;stroke-width:1.1"/>
<path class="k" d="M543.5,479.5 Q547.9,478.3 549.5,480.7 L549.5,483.9 Q547.9,485.5 543.5,484.7"/>
<path class="l" d="M550.9,480.7 L557.9,481.5 M550.9,484.3 L557.9,485.1"/>
<path class="l" d="M544.3,482.1 L548.7,482.5" style="stroke:#fff;stroke-width:1.4"/>
<path class="l" d="M551.1,482.5 L557.5,483.3" style="stroke:#fff;stroke-width:1.1"/>
<path class="k" d="M543.5,486.9 Q547.9,485.7 549.5,488.1 L549.5,491.3 Q547.9,492.9 543.5,492.1"/>
<path class="l" d="M550.9,488.1 L557.9,488.9 M550.9,491.7 L557.9,492.5"/>
<path class="l" d="M544.3,489.5 L548.7,489.9" style="stroke:#fff;stroke-width:1.4"/>
<path class="l" d="M551.1,489.9 L557.5,490.7" style="stroke:#fff;stroke-width:1.1"/>
<path class="k" d="M543.5,494.3 Q547.9,493.1 549.5,495.5 L549.5,498.7 Q547.9,500.3 543.5,499.5"/>
<path class="l" d="M550.9,495.5 L557.9,496.3 M550.9,499.1 L557.9,499.9"/>
<path class="l" d="M544.3,496.9 L548.7,497.3" style="stroke:#fff;stroke-width:1.4"/>
<path class="l" d="M551.1,497.3 L557.5,498.1" style="stroke:#fff;stroke-width:1.1"/>
<path class="t" d="M524.4,378.3L541.5,387.9"/>
<path class="t" d="M524.4,381.3L541.5,390.9"/>
<path class="t" d="M524.4,384.3L541.5,393.9"/>
<path class="t" d="M524.4,387.3L541.5,396.9"/>
<path class="t" d="M524.4,390.3L541.5,399.9"/>
<path class="t" d="M524.4,393.3L541.5,402.9"/>
<path class="t" d="M524.4,396.3L541.5,405.8"/>
<path class="t" d="M524.4,399.3L541.5,408.8"/>
<path class="t" d="M524.4,402.3L541.5,411.8"/>
<path class="t" d="M524.4,405.2L541.5,414.8"/>
<path class="t" d="M524.4,408.2L541.5,417.8"/>
<path class="t" d="M524.4,411.2L541.5,420.8"/>
<path class="t" d="M524.4,414.2L541.5,423.8"/>
<path class="t" d="M524.4,417.2L541.5,426.8"/>
<path class="t" d="M524.4,420.2L541.5,429.8"/>
<path class="t" d="M524.4,423.2L541.5,432.8"/>
<path class="t" d="M524.4,426.2L541.5,435.8"/>
<path class="t" d="M524.4,429.2L541.5,438.8"/>
<path class="t" d="M524.4,432.2L541.5,441.8"/>
<path class="t" d="M524.4,435.2L541.5,444.8"/>
<path class="t" d="M524.4,438.2L541.5,447.8"/>
<path class="t" d="M524.4,441.2L541.5,450.8"/>
<path class="t" d="M524.4,444.2L541.5,453.8"/>
<path class="t" d="M524.4,447.2L541.5,456.8"/>
<path class="t" d="M524.4,450.2L541.5,459.8"/>
<path class="t" d="M524.4,453.2L541.5,462.8"/>
<path class="t" d="M524.4,456.2L541.5,465.8"/>
<path class="t" d="M524.4,459.2L541.5,468.8"/>
<path class="t" d="M524.4,462.2L541.5,471.8"/>
<path class="t" d="M524.4,465.2L541.5,474.8"/>
<path class="t" d="M524.4,468.2L541.5,477.7"/>
<path class="t" d="M524.4,471.2L541.5,480.7"/>
<path class="t" d="M524.4,474.2L541.5,483.7"/>
<path class="t" d="M524.4,477.1L541.5,486.7"/>
<path class="t" d="M524.4,480.1L541.5,489.7"/>
<path class="t" d="M524.4,483.1L541.5,492.7"/>
<path class="t" d="M524.4,486.1L541.5,495.7"/>
<path class="t" d="M524.4,489.1L541.5,498.7"/>
<path class="t" d="M524.4,492.1L541.5,501.7"/>
<path class="t" d="M524.4,495.1L541.5,504.7"/>
<path class="t" d="M529.9,381.9 L529.9,489.7 M535.9,385.9 L535.9,494.7"/>
<path class="k" d="M542.3,502.7 Q543.9,507.7 549.9,505.7 Q554.9,503.7 553.9,498.7"/>
</g>
<g id="p13_f6">
<path class="w" d="M460.7,404.3 L479.2,397.1 L485.6,397.8 L484.2,427.1 L484.9,459.9 L485.6,498.4 L479.9,501.3 L462.8,488.4 L460.7,442.8 Z"/>
<path class="w" d="M463.5,407.1 L479.9,400 L478.5,422.8 L476.8,425.9 L465,419.7 Z"/>
<path class="l" d="M465,408.5 L477.8,402.8 M480.2,400 L482.1,400.7 L480.6,425.6 L482.8,459.9 L483.5,497 M462.1,405.7 L462.1,442.8 L464.2,487"/>
<path class="w" d="M466.4,454.2 L479.2,460.2 L480.6,493 L465.7,485.6 Z"/>
<path class="t" d="M467.8,456.3 L467.4,484.9 M478.5,462 L479.6,491.3"/>
<ellipse class="w" cx="470.7" cy="438.5" rx="7.7" ry="7.7"/>
<path class="l" d="M465,434.2 Q468.5,428.5 475.6,431.4 M465.7,443.5 Q470.7,448.5 476.4,442.8"/>
<path class="k" d="M462.1,427.1 L467.1,430.2 M462.1,429.9 L465,432.1 M477.1,426.4 L479.2,429.2 M464.2,448.5 L467.8,451.3 M474.2,447 L478.5,451.3"/>
<path class="l" d="M475.6,444.2 L477.8,447 L479.2,442.8"/>
<path class="g" d="M465.9,436.3 L467.4,442.8 L468.8,443.5 L468.2,437.1 Z" style="fill:#777"/>
<path class="l" d="M462.8,488.4 L468.8,486.3 L485.6,498.4 M467.4,489.8 L471.4,488.1 L479.2,494.1 L475.4,495.8 Z"/>
<path class="t" d="M479.2,398.5 L478.5,422.8 M484.2,427.1 L482.1,425.6"/>
<path class="k" d="M463.5,408.5 L464.2,418.5 M479.9,459.9 L482.1,492.7" style="stroke-dasharray:1.5 1.2"/>
<path class="w" d="M441.4,395 L444.3,392.8 L451.4,396 L478.5,386.4 L483.5,388.6 L484.2,391.4 L455,407.8 L451.4,405.7 L444.3,401.7 Z"/>
<path class="l" d="M451.4,396 L452.8,397.8 L482.1,387.8 M452.8,397.8 L455,407.8 M453.5,401.4 L483.5,390 M444.3,392.8 L445.7,397.1 L451.4,400 L452.8,397.8 M445.7,397.1 L444.3,401.7"/>
<path class="k" d="M454.3,400 L482.8,389.3" style="stroke-width:2.2;stroke-dasharray:0.8 0.8"/>
<path class="k" d="M454.3,404.5 L483.9,391.1" style="stroke-width:1.6;stroke-dasharray:0.8 0.8"/>
<path class="w" d="M475.3,387.6 L476.2,373.9 L481.8,369.6 L489.9,374.8 L486.4,377.3 L483.9,375.6 L483.9,388.5 Z"/>
<path class="l" d="M481.8,369.6 L481.8,372.2 L477.9,375.1 L477.9,386.8"/>
<g transform="translate(455.4,491.6) rotate(55)"><path d="M1,-1.3L6.5,-1.2L8,0L6.5,1.2L1,1.3Z" fill="#555" stroke="#222" stroke-width="0.7"/><path d="M3,-1.3L3.6,1.3M4.6,-1.3L5.2,1.3" stroke="#ddd" stroke-width="0.5" fill="none"/><ellipse cx="0" cy="0" rx="1.7" ry="2.8" fill="#bbb" stroke="#111" stroke-width="1.1"/></g>
<path class="ld" d="M441.4,505.5 L454.5,496.7 M460.7,500.1 L467.4,495.3 M458.5,497 L461.1,500.1"/>
<path class="ld" d="M495.6,490.6 L485.9,489.6"/>
<path class="l" d="M430,459.9 L463.5,442.1 M487.1,465.6 L538.4,494.1"/>
</g>
<g id="p14_c3">
<path class="l" d="M520,318 L520,357.9" style="stroke-width:1.8;stroke:#222"/>
<path class="l" d="M520,318 L520,357.9" style="stroke-width:0.8;stroke:#fff"/>
<path class="l" d="M520,318 L591.9,358.9" style="stroke-width:1.8;stroke:#222"/>
<path class="l" d="M520,318 L591.9,358.9" style="stroke-width:0.8;stroke:#fff"/>
<path class="l" d="M590.9,358.9 L590.9,447.8 Q590.9,453.8 586.9,456.8" style="stroke-width:1.8;stroke:#222"/>
<path class="l" d="M590.9,358.9 L590.9,447.8 Q590.9,453.8 586.9,456.8" style="stroke-width:0.8;stroke:#fff"/>
<path class="l" d="M555.9,336.9 L555.9,379.9 L553.5,383.9" style="stroke-width:1.8;stroke:#222"/>
<path class="l" d="M555.9,336.9 L555.9,379.9 L553.5,383.9" style="stroke-width:0.8;stroke:#fff"/>
<path class="l" d="M520,338.9 L590.9,379.9" style="stroke-width:1.8;stroke:#222"/>
<path class="l" d="M520,338.9 L590.9,379.9" style="stroke-width:0.8;stroke:#fff"/>
<path class="l" d="M555.9,359.5 L590.9,379.9" style="stroke-width:1.6;stroke:#222"/>
<path class="l" d="M555.9,359.5 L590.9,379.9" style="stroke-width:0.6000000000000001;stroke:#fff"/>
<path class="l" d="M553.9,379.9 L590.9,401.9" style="stroke-width:1.8;stroke:#222"/>
<path class="l" d="M553.9,379.9 L590.9,401.9" style="stroke-width:0.8;stroke:#fff"/>
<path class="l" d="M558.9,402.9 L590.9,421.8" style="stroke-width:1.8;stroke:#222"/>
<path class="l" d="M558.9,402.9 L590.9,421.8" style="stroke-width:0.8;stroke:#fff"/>
<path class="l" d="M560.9,425.8 L589.9,442.8" style="stroke-width:1.8;stroke:#222"/>
<path class="l" d="M560.9,425.8 L589.9,442.8" style="stroke-width:0.8;stroke:#fff"/>
<path class="l" d="M520,318 L520,312 Q518,307 515.6,310" style="stroke-width:1.6;stroke:#222"/>
<path class="l" d="M520,318 L520,312 Q518,307 515.6,310" style="stroke-width:0.6000000000000001;stroke:#fff"/>
<path class="l" d="M590.9,358.9 L589.9,350.9 Q588.3,345.9 585.9,349.5" style="stroke-width:1.6;stroke:#222"/>
<path class="l" d="M590.9,358.9 L589.9,350.9 Q588.3,345.9 585.9,349.5" style="stroke-width:0.6000000000000001;stroke:#fff"/>
<path class="l" d="M591.9,358.9 L598.8,359.9 Q600.2,357.9 597.8,357.5" style="stroke-width:1.6;stroke:#222"/>
<path class="l" d="M591.9,358.9 L598.8,359.9 Q600.2,357.9 597.8,357.5" style="stroke-width:0.6000000000000001;stroke:#fff"/>
<ellipse class="l" cx="516" cy="309" rx="1.6" ry="1.6"/>
<ellipse class="l" cx="586.9" cy="347.9" rx="1.6" ry="1.6"/>
<ellipse class="l" cx="586.9" cy="457.8" rx="1.4" ry="1.4"/>
<ellipse class="d" cx="520" cy="338.9" rx="0.8" ry="0.8"/>
<ellipse class="d" cx="555.9" cy="336.9" rx="0.8" ry="0.8"/>
<ellipse class="d" cx="590.9" cy="379.9" rx="0.8" ry="0.8"/>
<ellipse class="d" cx="590.9" cy="401.9" rx="0.8" ry="0.8"/>
<ellipse class="d" cx="590.9" cy="421.8" rx="0.8" ry="0.8"/>
<ellipse class="d" cx="555.9" cy="359.5" rx="0.8" ry="0.8"/>
<path class="k" d="M597.4,368.9 L597.4,378.9"/>
<path class="w" d="M596.4,378.9 L598.8,378.9 L598.8,387.9 L596.4,387.9 Z"/>
<path class="w" d="M544.9,364.9 L549.9,362.3 L553.9,364.3 L553.9,370.9 L548.9,373.5 L544.9,371.5 Z"/>
<path class="l" d="M544.9,364.9 L548.9,366.9 L553.9,364.3 M548.9,366.9 L548.9,373.5"/>
<path class="t" d="M549.9,373.5 L549.9,387.9" style="stroke-dasharray:1.5 1"/>
<path class="w" d="M518,358.3 L520,355.9 L540.3,366.9 L538.3,369.5 Z"/>
<path class="ld" d="M506,329 L518,356.9 M506,329 L490,333"/>
<path class="ld" d="M538.9,319 L546.9,362.9"/>
<path class="ld" d="M586.9,332 L577.9,348.9"/>
<circle cx="532.5" cy="413.2" r="4.8" fill="#fff" stroke="#222" stroke-width="0.8"/>
<text x="532.5" y="416.5" font-size="9" text-anchor="middle">F</text>
<circle cx="573.5" cy="442.8" r="5.8" fill="#fff" stroke="#222" stroke-width="0.8"/>
<text x="573.5" y="446" font-size="9" text-anchor="middle">H</text>
<path class="t" d="M560.9,447.8 L572.9,451.8"/>
<path class="l" d="M556.9,407.8 L558.9,408.8 L558.9,447.8" style="stroke-width:2.0;stroke:#222"/>
<path class="l" d="M556.9,407.8 L558.9,408.8 L558.9,447.8" style="stroke-width:1.0;stroke:#fff"/>
<path class="w" d="M549.9,419.8 Q546.9,419.8 546.9,423.8 L546.9,433.8 Q546.9,437.8 549.9,437.8 Q552.3,437.8 552.3,433.8 L552.3,423.8 Q552.3,419.8 549.9,419.8 Z"/>
<path class="k" d="M545.9,403.9 Q549.9,395.9 555.9,399.9 M544.9,411.8 Q549.9,407.8 555.9,411.8"/>
<path class="k" d="M560.3,448.8 L560.3,457.8 M560.3,467.8 L560.3,475.7" style="stroke-width:1.4"/>
<ellipse class="w" cx="560.3" cy="462.8" rx="1.8" ry="5.2"/>
<path class="d" d="M557.5,480.7 L560.3,475.3 L563.1,480.7 Z"/>
<path class="g" d="M556.9,481.3 L563.9,481.3 L563.9,490.7 L556.9,490.7 Z" style="fill:#555"/>
<ellipse class="w" cx="569.5" cy="473.4" rx="1.4" ry="2.2" transform="rotate(15 569.5 473.4)"/>
<path class="l" d="M568.9,475.7 L566.9,481.7"/>
<path class="w" d="M560.9,492.1 Q560.9,490.1 565.5,490.1 Q569.9,490.1 569.9,492.1 L569.9,511.7 L560.9,511.7 Z"/>
<path class="l" d="M560.9,492.1 Q565.5,494.1 569.9,492.1"/>
<path class="ld" d="M597.8,460.8 L562.9,463.4 M578.9,472.8 L571.9,473.8 M578.9,491.7 L564.3,482.7 M576.9,513.7 L570.3,507.7"/>
</g>
<g id="p15_f4">
<path class="w" d="M206,474 Q206.6,470.4 209.4,470 L212.2,471.6 L212.2,479 L309.8,531.9 L310.8,536.9 L314.8,538.9 L315.8,535.9 L320.4,538.3 L321.8,535.9 L323.8,539.9 L323.8,649.7 L317.8,652.7 L309.8,648.7 L211,595.8 L206,591.8 Z"/>
<path class="l" d="M309.8,531.9 L309.8,648.7 M211,480 L211,595.8 M319.8,538.9 L319.8,651.3"/>
<path class="t" d="M317.2,539.9 L317.2,651.7" style="stroke-dasharray:1.2 1"/>
<path class="l" d="M214,478.4 L309.2,529.3 M213,481.6 L309.2,533.1"/>
<path class="w" d="M217,499.9 L280.9,536.9 L282.3,540.9 L278.9,538.9 L216,502.9 Z"/>
<path class="k" d="M237.9,494 L240.9,498.9 M249.9,500.9 L252.9,505.5"/>
<ellipse class="l" cx="239.3" cy="496.3" rx="1" ry="1.8" transform="rotate(-30 239.3 496.3)"/>
<ellipse class="l" cx="253.3" cy="504.3" rx="1" ry="1.8" transform="rotate(-30 253.3 504.3)"/>
<ellipse class="l" cx="249.1" cy="562.3" rx="32" ry="51.5" transform="rotate(-28 249.1 562.3)"/>
<ellipse class="t" cx="249.1" cy="562.3" rx="30.5" ry="49.2" transform="rotate(-28 249.1 562.3)"/>
<ellipse class="t" cx="249.5" cy="562.4" rx="29.2" ry="47.1" transform="rotate(-28 249.5 562.4)"/>
<ellipse class="l" cx="250.7" cy="562.7" rx="27.2" ry="43.8" transform="rotate(-28 250.7 562.7)"/>
<path class="l" d="M287.9,544.1 L309.8,555.9 L319.8,558.7"/>
<path class="t" d="M288.9,545.7 L309.8,557.1"/>
<path class="l" d="M288.9,555.7 L309.8,566.8 L319.8,569.6"/>
<path class="t" d="M289.9,557.3 L309.8,568"/>
<path class="l" d="M287.3,565.8 L309.8,577.8 L319.8,580.6"/>
<path class="t" d="M288.3,567.4 L309.8,579"/>
<path class="l" d="M285.9,577 L309.8,589.8 L319.8,592.6"/>
<path class="t" d="M286.9,578.6 L309.8,591"/>
<path class="l" d="M282.9,586.4 L309.8,600.8 L319.8,603.6"/>
<path class="t" d="M283.9,588 L309.8,602"/>
<path class="l" d="M284.9,598.4 L309.8,611.8 L319.8,614.6"/>
<path class="t" d="M285.9,600 L309.8,613"/>
<path class="l" d="M286.9,611.6 L309.8,623.8 L319.8,626.6"/>
<path class="t" d="M287.9,613.2 L309.8,625"/>
<path class="l" d="M288.9,623.6 L309.8,634.8 L319.8,637.5"/>
<path class="t" d="M289.9,625.2 L309.8,635.9"/>
<path class="l" d="M289.9,635.1 L309.8,645.7 L319.8,648.5"/>
<path class="t" d="M290.9,636.7 L309.8,646.9"/>
<path class="l" d="M206.4,484 L210.6,486.8"/>
<path class="l" d="M206.4,495.9 L210.6,498.7"/>
<path class="l" d="M206.4,506.9 L210.6,509.7"/>
<path class="l" d="M206.4,517.9 L210.6,520.7"/>
<path class="l" d="M206.4,528.9 L210.6,531.7"/>
<path class="l" d="M206.4,539.9 L210.6,542.7"/>
<path class="l" d="M206.4,550.9 L210.6,553.7"/>
<path class="l" d="M206.4,561.9 L210.6,564.7"/>
<path class="l" d="M206.4,572.8 L210.6,575.6"/>
<path class="l" d="M206.4,583.8 L210.6,586.6"/>
<ellipse class="l" cx="213.4" cy="505.9" rx="1" ry="1.4" transform="rotate(-20 213.4 505.9)"/>
<ellipse class="l" cx="214.4" cy="519.5" rx="1" ry="1.4" transform="rotate(-20 214.4 519.5)"/>
<ellipse class="l" cx="213.4" cy="567.8" rx="1" ry="1.4" transform="rotate(-20 213.4 567.8)"/>
<ellipse class="l" cx="213.4" cy="581.8" rx="1" ry="1.4" transform="rotate(-20 213.4 581.8)"/>
<ellipse class="l" cx="217" cy="589.8" rx="1" ry="1.4" transform="rotate(-20 217 589.8)"/>
<ellipse class="l" cx="224" cy="589.8" rx="1" ry="1.4" transform="rotate(-20 224 589.8)"/>
<ellipse class="l" cx="284.5" cy="547.9" rx="1" ry="1.4" transform="rotate(-20 284.5 547.9)"/>
<ellipse class="l" cx="284.9" cy="561.9" rx="1" ry="1.4" transform="rotate(-20 284.9 561.9)"/>
<ellipse class="l" cx="284.5" cy="609.8" rx="1" ry="1.4" transform="rotate(-20 284.5 609.8)"/>
<ellipse class="l" cx="275.3" cy="618.8" rx="1" ry="1.4" transform="rotate(-20 275.3 618.8)"/>
<ellipse class="l" cx="285.9" cy="624.8" rx="1" ry="1.4" transform="rotate(-20 285.9 624.8)"/>
<ellipse class="l" cx="279.9" cy="626.8" rx="1" ry="1.4" transform="rotate(-20 279.9 626.8)"/>
<path class="t" d="M247.9,563.9 L270.5,552.9 M249.9,591.8 L300.8,562.9 M249.9,591.8 L249.9,619.8 L242.9,622.8"/>
<path class="t" d="M221,510.9 L254.9,501.9"/>
<path class="w" d="M230.9,618.8 L243.9,625 L243.9,633.8 L231.9,627.8 Z"/>
<path class="l" d="M232.5,620.8 L234.9,625.8"/>
<g transform="translate(225,614.2) rotate(-28)"><path d="M1,-1.3L6,-1.2L7.5,0L6,1.2L1,1.3Z" fill="#555" stroke="#222" stroke-width="0.7"/><path d="M3,-1.3L3.6,1.3M4.6,-1.3L5.2,1.3" stroke="#ddd" stroke-width="0.5" fill="none"/><ellipse cx="0" cy="0" rx="1.7" ry="2.5" fill="#bbb" stroke="#111" stroke-width="1.1"/></g>
<g transform="translate(266.3,640.1) rotate(-28)"><path d="M1,-1.3L6,-1.2L7.5,0L6,1.2L1,1.3Z" fill="#555" stroke="#222" stroke-width="0.7"/><path d="M3,-1.3L3.6,1.3M4.6,-1.3L5.2,1.3" stroke="#ddd" stroke-width="0.5" fill="none"/><ellipse cx="0" cy="0" rx="1.7" ry="2.5" fill="#bbb" stroke="#111" stroke-width="1.1"/></g>
<g transform="translate(266.5,564.3) rotate(-25)"><path d="M1,-1.3L5.5,-1.2L7,0L5.5,1.2L1,1.3Z" fill="#555" stroke="#222" stroke-width="0.7"/><path d="M3,-1.3L3.6,1.3M4.6,-1.3L5.2,1.3" stroke="#ddd" stroke-width="0.5" fill="none"/><ellipse cx="0" cy="0" rx="1.7" ry="2.4" fill="#bbb" stroke="#111" stroke-width="1.1"/></g>
<g transform="translate(335.3,569.3) rotate(212)"><path d="M1,-1.3L6.5,-1.2L8,0L6.5,1.2L1,1.3Z" fill="#555" stroke="#222" stroke-width="0.7"/><path d="M3,-1.3L3.6,1.3M4.6,-1.3L5.2,1.3" stroke="#ddd" stroke-width="0.5" fill="none"/><ellipse cx="0" cy="0" rx="1.7" ry="2.6" fill="#bbb" stroke="#111" stroke-width="1.1"/></g>
<g transform="translate(334.1,655.8) rotate(212)"><path d="M1,-1.3L6.5,-1.2L8,0L6.5,1.2L1,1.3Z" fill="#555" stroke="#222" stroke-width="0.7"/><path d="M3,-1.3L3.6,1.3M4.6,-1.3L5.2,1.3" stroke="#ddd" stroke-width="0.5" fill="none"/><ellipse cx="0" cy="0" rx="1.7" ry="2.6" fill="#bbb" stroke="#111" stroke-width="1.1"/></g>
<path class="ld" d="M335.9,570.7 L340.9,582.6 M335,657.8 L340.9,669.2"/>
<path class="t" d="M324.2,562.8 L327.2,564.6 M324.2,650.9 L326.5,652.5"/>
<ellipse class="g" cx="320.4" cy="523.9" rx="1.8" ry="2"/>
<path class="ld" d="M303.8,509.9 L318.4,522.3 M322.8,522.3 L334.8,515.9 M306.8,530.3 L319.2,524.9"/>
<path class="ld" d="M215,629.8 L225,616.8 M233.9,640.7 L237.9,629.8 M260.9,660.7 L265.9,642.7 M242.9,645.7 L282.9,625.8 M230.9,653.7 L195,671.7"/>
<g transform="translate(185.6,482.9) rotate(28)"><path d="M1,-1.3L5,-1.2L6.5,0L5,1.2L1,1.3Z" fill="#555" stroke="#222" stroke-width="0.7"/><path d="M3,-1.3L3.6,1.3M4.6,-1.3L5.2,1.3" stroke="#ddd" stroke-width="0.5" fill="none"/><ellipse cx="0" cy="0" rx="1.7" ry="2.2" fill="#bbb" stroke="#111" stroke-width="1.1"/></g>
<g transform="translate(185.6,573.5) rotate(28)"><path d="M1,-1.3L5,-1.2L6.5,0L5,1.2L1,1.3Z" fill="#555" stroke="#222" stroke-width="0.7"/><path d="M3,-1.3L3.6,1.3M4.6,-1.3L5.2,1.3" stroke="#ddd" stroke-width="0.5" fill="none"/><ellipse cx="0" cy="0" rx="1.7" ry="2.2" fill="#bbb" stroke="#111" stroke-width="1.1"/></g>
<g transform="translate(189.7,536.5) rotate(-28)"><path d="M1,-1.3L6.5,-1.2L8,0L6.5,1.2L1,1.3Z" fill="#555" stroke="#222" stroke-width="0.7"/><path d="M3,-1.3L3.6,1.3M4.6,-1.3L5.2,1.3" stroke="#ddd" stroke-width="0.5" fill="none"/><ellipse cx="0" cy="0" rx="1.7" ry="2.6" fill="#bbb" stroke="#111" stroke-width="1.1"/></g>
<path class="t" d="M191.3,486.8 L201,492.4 M191.3,577.4 L201,583.2" style="stroke-dasharray:1.5 1"/>
<path class="t" d="M195.6,533.2 L251.3,502.1"/>
<path class="ld" d="M175.5,472.3 L184.8,481.9 M190.8,510.2 L209.4,519 M177.9,527.9 L188.4,535.5 M175.5,563.4 L184.8,572.6"/>
</g>
<g id="p16_c1">
<path class="w" d="M392.7,505.5 Q384.7,529.7 360.5,539.8 L343.3,545.8 Q337.3,534.8 335.3,521.7 Q343.3,526.7 352.8,520.6 Q358.5,517.6 364.5,517.6 Q382.7,516.6 392.7,505.5 Z"/>
<path class="w" d="M309.1,489.4 Q320.2,490.4 332.3,499.5 Q330.2,504.5 330.2,516.6 Q315.1,508.5 309.1,489.4 Z"/>
<path class="w" d="M333.3,468.2 Q352.4,470.2 364.5,492.4 Q368.5,500.5 366.5,506.5 L363.5,517.6 L352.8,516.2 Q350.4,506.5 343.3,501.5 Q345.4,483.3 333.3,468.2 Z"/>
<path class="t" d="M312.1,491.4 Q320.2,498.5 330.2,500.5 M366.5,506.5 Q364.5,510.6 364.5,517.6"/>
<ellipse class="w" cx="340.3" cy="509.6" rx="10.5" ry="9.5" transform="rotate(-15 340.3 509.6)"/>
<ellipse class="l" cx="341.3" cy="508.5" rx="8.1" ry="7.1" transform="rotate(-15 341.3 508.5)"/>
<path class="k" d="M333.3,504.5 Q337.3,500.5 343.3,501.5 M334.3,513.6 Q340.3,517.6 347.4,513.6 M336.3,506.5 L345.4,510.6 M342.3,504.5 L340.3,515.6"/>
<path class="d" d="M341.3,507.5 L345.4,509.6 L344.4,513.6 L340.3,512.2 Z"/>
<path class="l" d="M330.2,516.6 Q338.3,524.7 352.8,520.6"/>
<path class="t" d="M369.6,494.8 L380.6,487.4"/>
<path class="l" d="M404.2,491.3 Q411.3,488.9 413.6,477.6 Q415.5,468.2 407,461.2 Q397.6,454.1 396.5,441.9" style="stroke-width:2.6;stroke:#222"/>
<path class="l" d="M404.2,491.3 Q411.3,488.9 413.6,477.6 Q415.5,468.2 407,461.2 Q397.6,454.1 396.5,441.9" style="stroke-width:1.6;stroke:#fff"/>
<path class="t" d="M403.3,476.2 L413.2,470.6"/>
<path class="k" d="M414.1,474.8 L415,477.6"/>
<ellipse class="g" cx="382.9" cy="471.2" rx="2.3" ry="2.3"/>
<ellipse class="g" cx="396.2" cy="494.9" rx="2.3" ry="2.3"/>
<path class="k" d="M381.2,468.2 L384.7,468.2 L388.2,471 M393.9,492.7 L398.6,496.5"/>
<ellipse class="wk" cx="396.2" cy="480.5" rx="8" ry="11.3" transform="rotate(-25 396.2 480.5)"/>
<ellipse class="w" cx="393.4" cy="481.4" rx="7.1" ry="9.9" transform="rotate(-25 393.4 481.4)"/>
<path class="k" d="M392,472.9 L399.5,471 M393.4,477.2 L401.4,475.8 M394.3,481.4 L402.3,480.5 M394.3,485.6 L401.4,485.2"/>
<ellipse class="g" cx="388.7" cy="482.8" rx="5.8" ry="7.5" transform="rotate(-25 388.7 482.8)"/>
<ellipse class="wk" cx="387.3" cy="483.5" rx="4.2" ry="5.5" transform="rotate(-25 387.3 483.5)"/>
<ellipse class="g" cx="385.6" cy="484.2" rx="2.4" ry="3.2" transform="rotate(-25 385.6 484.2)"/>
<path class="k" d="M384,485.9 L376.9,491.3" style="stroke-width:2.2"/>
<path class="t" d="M376.5,491.6 L368.9,495"/>
<ellipse class="g" cx="365.2" cy="470.1" rx="2.4" ry="2.3"/>
<ellipse class="w" cx="365.2" cy="470.1" rx="1.1" ry="1"/>
<ellipse class="g" cx="378.8" cy="463.1" rx="2.8" ry="3.2"/>
<path class="k" d="M367.5,468.7 L374.1,465.2" style="stroke-width:2"/>
<path class="ld" d="M360,457.9 L365.8,465.4"/>
<path class="t" d="M381.6,466.8 L384,470.1" style="stroke-dasharray:1.5 1"/>
<path class="t" d="M401.8,513.6 L397.8,497.5" style="stroke-dasharray:1.5 1"/>
<path class="ld" d="M365.5,551.9 L360.5,539.4"/>
<ellipse class="g" cx="320.2" cy="523.1" rx="1.8" ry="2"/>
<path class="ld" d="M322.2,521.7 L333.3,515.6 M318.1,524.7 L310.1,528.7 M307.1,510.6 L318.5,521.7"/>
</g>
<g id="p17_c4">
<path class="w" d="M102.1,551.4 Q102.1,549.2 104.2,550.2 L186.3,596.4 Q188.1,597.4 188.1,599.8 L188.1,688.9 Q188.1,691.8 185.7,690.9 L103.5,649 Q101.8,648.1 101.8,646.1 Z"/>
<path class="l" d="M184.6,597.6 L184.6,690.1"/>
<path class="l" d="M102.6,552.7 L184.6,599.7" style="stroke-width:0.95;stroke:#222"/>
<path class="l" d="M102.6,554.9 L184.6,601.8" style="stroke-width:0.95;stroke:#222"/>
<path class="l" d="M102.6,557.1 L184.6,603.9" style="stroke-width:0.95;stroke:#222"/>
<path class="l" d="M102.6,559.3 L184.6,606" style="stroke-width:0.95;stroke:#222"/>
<path class="l" d="M102.6,561.5 L184.6,608.1" style="stroke-width:0.95;stroke:#222"/>
<path class="l" d="M102.6,563.7 L184.6,610.2" style="stroke-width:0.95;stroke:#222"/>
<path class="l" d="M102.6,565.9 L184.6,612.3" style="stroke-width:0.95;stroke:#222"/>
<path class="l" d="M102.6,568.1 L184.6,614.4" style="stroke-width:0.95;stroke:#222"/>
<path class="l" d="M102.6,570.3 L184.6,616.5" style="stroke-width:0.95;stroke:#222"/>
<path class="l" d="M102.6,572.5 L184.6,618.6" style="stroke-width:0.95;stroke:#222"/>
<path class="l" d="M102.6,574.7 L184.6,620.7" style="stroke-width:0.95;stroke:#222"/>
<path class="l" d="M102.6,576.9 L184.6,622.7" style="stroke-width:0.95;stroke:#222"/>
<path class="l" d="M102.6,579.1 L184.6,624.9" style="stroke-width:0.95;stroke:#222"/>
<path class="l" d="M102.6,581.3 L184.6,626.9" style="stroke-width:0.95;stroke:#222"/>
<path class="l" d="M102.6,583.5 L184.6,629" style="stroke-width:0.95;stroke:#222"/>
<path class="l" d="M102.6,585.7 L184.6,631.1" style="stroke-width:0.95;stroke:#222"/>
<path class="l" d="M102.6,587.9 L184.6,633.2" style="stroke-width:0.95;stroke:#222"/>
<path class="l" d="M102.6,590.1 L184.6,635.3" style="stroke-width:0.95;stroke:#222"/>
<path class="l" d="M102.6,592.3 L184.6,637.4" style="stroke-width:0.95;stroke:#222"/>
<path class="l" d="M102.6,594.5 L184.6,639.5" style="stroke-width:0.95;stroke:#222"/>
<path class="l" d="M102.6,596.7 L184.6,641.6" style="stroke-width:0.95;stroke:#222"/>
<path class="l" d="M102.6,598.9 L184.6,643.7" style="stroke-width:0.95;stroke:#222"/>
<path class="l" d="M102.6,601.1 L184.6,645.8" style="stroke-width:0.95;stroke:#222"/>
<path class="l" d="M102.6,603.3 L184.6,647.9" style="stroke-width:0.95;stroke:#222"/>
<path class="l" d="M102.6,605.5 L184.6,650" style="stroke-width:0.95;stroke:#222"/>
<path class="l" d="M102.6,607.7 L184.6,652.1" style="stroke-width:0.95;stroke:#222"/>
<path class="l" d="M102.6,609.9 L184.6,654.1" style="stroke-width:0.95;stroke:#222"/>
<path class="l" d="M102.6,612.1 L184.6,656.2" style="stroke-width:0.95;stroke:#222"/>
<path class="l" d="M102.6,614.3 L184.6,658.3" style="stroke-width:0.95;stroke:#222"/>
<path class="l" d="M102.6,616.5 L184.6,660.4" style="stroke-width:0.95;stroke:#222"/>
<path class="l" d="M102.6,618.7 L184.6,662.5" style="stroke-width:0.95;stroke:#222"/>
<path class="l" d="M102.6,620.9 L184.6,664.6" style="stroke-width:0.95;stroke:#222"/>
<path class="l" d="M102.6,623.1 L184.6,666.7" style="stroke-width:0.95;stroke:#222"/>
<path class="l" d="M102.6,625.3 L184.6,668.8" style="stroke-width:0.95;stroke:#222"/>
<path class="l" d="M102.6,627.5 L184.6,670.9" style="stroke-width:0.95;stroke:#222"/>
<path class="l" d="M102.6,629.6 L184.6,673" style="stroke-width:0.95;stroke:#222"/>
<path class="l" d="M102.6,631.9 L184.6,675.1" style="stroke-width:0.95;stroke:#222"/>
<path class="l" d="M102.6,634 L184.6,677.2" style="stroke-width:0.95;stroke:#222"/>
<path class="l" d="M102.6,636.3 L184.6,679.3" style="stroke-width:0.95;stroke:#222"/>
<path class="l" d="M102.6,638.4 L184.6,681.4" style="stroke-width:0.95;stroke:#222"/>
<path class="l" d="M102.6,640.6 L184.6,683.4" style="stroke-width:0.95;stroke:#222"/>
<path class="l" d="M102.6,642.8 L184.6,685.6" style="stroke-width:0.95;stroke:#222"/>
<path class="l" d="M102.6,645 L184.6,687.6" style="stroke-width:0.95;stroke:#222"/>
<path class="l" d="M102.6,647.2 L184.6,689.7" style="stroke-width:0.95;stroke:#222"/>
<path class="t" d="M115.8,558.7 L115.8,654.1" style="stroke:#777;stroke-dasharray:2 1.5"/>
<path class="t" d="M123.5,563 L123.5,658" style="stroke:#777;stroke-dasharray:2 1.5"/>
<path class="t" d="M138.1,571.2 L138.1,665.2" style="stroke:#777;stroke-dasharray:2 1.5"/>
<path class="t" d="M153.5,579.8 L153.5,672.9" style="stroke:#777;stroke-dasharray:2 1.5"/>
<path class="t" d="M168.9,588.4 L168.9,680.6" style="stroke:#777;stroke-dasharray:2 1.5"/>
<path class="t" d="M178.3,593.7 L178.3,685.3" style="stroke:#777;stroke-dasharray:2 1.5"/>
<path class="k" d="M174.9,598.5 L183.4,605.3 M177.4,598.5 L184.3,604"/>
<ellipse class="l" cx="107.3" cy="560.8" rx="0.9" ry="0.9"/>
<ellipse class="l" cx="107.3" cy="643.8" rx="0.9" ry="0.9"/>
<ellipse class="l" cx="175.7" cy="600.2" rx="0.9" ry="0.9"/>
<ellipse class="l" cx="174.9" cy="684.1" rx="0.9" ry="0.9"/>
<g transform="translate(91.5,569.7) rotate(-25)"><path d="M1,-1.3L6.5,-1.2L8,0L6.5,1.2L1,1.3Z" fill="#555" stroke="#222" stroke-width="0.7"/><path d="M3,-1.3L3.6,1.3M4.6,-1.3L5.2,1.3" stroke="#ddd" stroke-width="0.5" fill="none"/><ellipse cx="0" cy="0" rx="1.7" ry="2.8" fill="#bbb" stroke="#111" stroke-width="1.1"/></g>
<g transform="translate(91.5,654.6) rotate(-25)"><path d="M1,-1.3L6.5,-1.2L8,0L6.5,1.2L1,1.3Z" fill="#555" stroke="#222" stroke-width="0.7"/><path d="M3,-1.3L3.6,1.3M4.6,-1.3L5.2,1.3" stroke="#ddd" stroke-width="0.5" fill="none"/><ellipse cx="0" cy="0" rx="1.7" ry="2.8" fill="#bbb" stroke="#111" stroke-width="1.1"/></g>
<g transform="translate(156.9,694.7) rotate(-25)"><path d="M1,-1.3L6.5,-1.2L8,0L6.5,1.2L1,1.3Z" fill="#555" stroke="#222" stroke-width="0.7"/><path d="M3,-1.3L3.6,1.3M4.6,-1.3L5.2,1.3" stroke="#ddd" stroke-width="0.5" fill="none"/><ellipse cx="0" cy="0" rx="1.7" ry="2.8" fill="#bbb" stroke="#111" stroke-width="1.1"/></g>
<g transform="translate(189.1,621.1) rotate(-25)"><path d="M1,-1.3L6.5,-1.2L8,0L6.5,1.2L1,1.3Z" fill="#555" stroke="#222" stroke-width="0.7"/><path d="M3,-1.3L3.6,1.3M4.6,-1.3L5.2,1.3" stroke="#ddd" stroke-width="0.5" fill="none"/><ellipse cx="0" cy="0" rx="1.7" ry="2.8" fill="#bbb" stroke="#111" stroke-width="1.1"/></g>
<path class="ld" d="M91.8,572.8 L91.8,584.8 M91.8,657.5 L95.3,673.8 M159.5,697.8 L159.5,711.5 M191.1,623.3 L198,646.4"/>
<path class="ld" d="M106.9,530 L107.8,549.2"/>
<path class="l" d="M186,605.3 L201.4,615.6 L194.6,619 M188.6,677.2 L208.3,666.9"/>
</g>
<g id="p18_f5">
<path class="w" d="M442.1,520.8 L449,514 L467.8,506.3 L484.1,507.1 L489.2,509.7 L489.2,615.8 L476.4,609.8 L467.8,609.8 L442.1,623.5 L439.6,621.8 L439.6,592.7 L442.1,591 Z"/>
<path class="l" d="M467.8,506.3 L467.8,609.8 M485.8,508.5 L485.8,614.1 M444.7,520 L444.7,621.8 M442.1,591 L444.7,592.7 M442.1,616.7 L448.1,617.5 L448.1,599.6 L444.7,597.8"/>
<path class="l" d="M450.7,521.7 L466.1,515.7 L466.1,536.2 L450.7,541.4 Z M455.8,526.8 L463.5,524.2 L463.5,534.9 L455.8,537.1 Z"/>
<path class="t" d="M452.4,518.2 L466.9,512.3 M446.4,520 L446.4,591"/>
<path class="l" d="M450.7,544.8 L460.1,541.4 L460.1,572.2 L455,573.9 L455,582.4 L450.7,584.2 Z M461.8,546.5 L465.2,545.1 L465.2,561.9 L461.8,563.3 Z M456.7,553.3 L459.2,552.5 L459.2,565.3 L456.7,566.2 Z"/>
<path class="l" d="M470.4,514 L474.6,514 L474.6,585.9 L470.4,585.9 Z M478.1,515.3 L482.3,515.3 L482.3,585.9 L478.1,585.9 Z"/>
<path class="t" d="M472.4,515.7 L472.4,585 M480.1,516.5 L480.1,585" style="stroke-dasharray:1.2 1"/>
<path class="l" d="M467.8,586.7 L484.1,587.9 L484.1,592.7 L476.4,599.6 L467.8,592.7 M476.4,599.6 L476.4,609.8 M469.9,592.7 L469.9,609"/>
<path class="t" d="M463.5,565.3 L463.5,613.3 M466.1,592.7 L466.1,610.7" style="stroke-dasharray:1.2 1"/>
<path class="k" d="M443.8,524.2 L448.1,517.4 L452.4,515.7 M442.1,531.1 L440.7,531.9 L440.7,535.4 L442.1,536.2 M439.6,592.7 L440.7,591"/>
<path class="k" d="M445.5,551.6 L445.5,579"/>
<path class="l" d="M439.6,621.8 L442.1,620.1 L442.1,623.5"/>
<path class="ld" d="M425.9,567.9 L441.8,569.6"/>
<path class="ld" d="M486.6,535.4 L505.5,547.3"/>
<g transform="translate(498.3,553.7) rotate(-28)"><path d="M1,-1.3L6.5,-1.2L8,0L6.5,1.2L1,1.3Z" fill="#555" stroke="#222" stroke-width="0.7"/><path d="M3,-1.3L3.6,1.3M4.6,-1.3L5.2,1.3" stroke="#ddd" stroke-width="0.5" fill="none"/><ellipse cx="0" cy="0" rx="1.7" ry="2.8" fill="#bbb" stroke="#111" stroke-width="1.1"/></g>
<path class="ld" d="M498.6,556.8 L496.6,570.5"/>
</g>
<g id="p19_f2">
<path class="w" d="M527.9,514 L530.5,512.3 L545,520.8 L545.9,525.1 L545.9,632.1 L541.6,634.7 L539.1,632.1 L534.8,636.4 L533.1,632.1 L533.1,575.6 L522.8,570.5 L522.8,531.1 L527.9,528.5 Z"/>
<path class="l" d="M531.4,516.5 L542.5,523.4 L542.5,546.5 M531.4,516.5 L531.4,526.8 L539.9,531.9 M527.9,514 L527.9,528.5 M543.3,524.2 L543.3,632.9"/>
<path class="w" d="M508.2,548.2 L511.7,541.4 L543.3,523.4 L545.9,525.1 L545.9,531.1 L516.8,547.3 L516.8,649.2 L510.8,654.3 L507.4,650.9 Z"/>
<path class="l" d="M511.7,541.4 L516.8,544.8 L516.8,547.3 M516.8,544.8 L545,528 M510.8,549.1 L510.8,653.5 M508.2,548.2 L510.8,549.1"/>
<path class="k" d="M514.2,549.9 L514.2,579" style="stroke-width:2.2;stroke-dasharray:0.7 0.7"/>
<path class="k" d="M513.9,585.9 L514.6,624.4" style="stroke-width:2.2;stroke-dasharray:0.7 0.7"/>
<path class="t" d="M508.2,558.5 L508.2,649.2" style="stroke-dasharray:1.2 1"/>
<path class="k" d="M510,583.3 L514.2,585 M510.8,577.3 L515.1,579.9"/>
<path class="l" d="M519.4,556.8 L539.1,547.3 L539.1,565.3 L531.4,570.5 M521.1,561.9 L521.1,642.4 L516.8,644.9 M522.8,570.5 L531.4,575.6 L531.4,608.1"/>
<path class="w" d="M518.5,557.6 L538.2,548.2 L540.8,550.3 L521.1,560.5 Z"/>
<path class="k" d="M524.9,555.9 L524.9,560.2 M529.6,553.7 L529.6,558.1 M534.4,551.3 L534.4,555.9" style="stroke-width:1.5"/>
<path class="l" d="M521.1,560.5 L521.1,563.6 L540.8,553.7 L540.8,550.3"/>
<path class="l" d="M522.8,544.8 L522.8,555.9 M533.1,541.4 L533.1,549.9 M538.2,536.2 L538.2,547.3"/>
<path class="l" d="M529.6,572.2 L539.9,567 L543.3,569.1 L533.1,574.7 Z"/>
<path class="l" d="M524.5,580.7 L524.5,601.3 M526.2,580.7 L530.5,582.4 L530.5,613.3"/>
<path class="k" d="M528.3,582.4 L528.3,612.4" style="stroke-width:2;stroke-dasharray:0.7 0.7"/>
<path class="l" d="M522.8,616.7 Q523.7,609 528.8,609.8 Q531.4,610.7 531.4,615 L531.4,633.8 M524.5,617.5 L524.5,635.5 L528.8,632.9"/>
<path class="t" d="M536.5,577.3 L536.5,630.4 M540.8,592.7 L540.8,609.8"/>
<path class="k" d="M534.8,629.5 L537.3,632.9 M539.1,629.5 L541.6,632.9"/>
<ellipse class="l" cx="518.5" cy="638.1" rx="1.2" ry="1.9"/>
<path class="l" d="M514.2,644.1 L516.8,642.4 M515.1,648.3 L518.5,645.8"/>
<path class="w" d="M538.2,579.4 L553.6,572.5 L557.9,575.6 L557.9,579.9 L548.5,585 L540.3,584.2 L538.2,582.4 Z"/>
<path class="l" d="M538.2,579.4 L542.5,582.1 L557.9,575.6 M542.5,582.1 L542.5,584.2"/>
<path class="k" d="M541.6,580.7 L555.3,574.7" style="stroke-width:2;stroke-dasharray:0.8 0.8"/>
<g transform="translate(560.1,520.5) rotate(150)"><path d="M1,-1.3L6.5,-1.2L8,0L6.5,1.2L1,1.3Z" fill="#555" stroke="#222" stroke-width="0.7"/><path d="M3,-1.3L3.6,1.3M4.6,-1.3L5.2,1.3" stroke="#ddd" stroke-width="0.5" fill="none"/><ellipse cx="0" cy="0" rx="1.7" ry="2.8" fill="#bbb" stroke="#111" stroke-width="1.1"/></g>
<g transform="translate(558.7,559.3) rotate(210)"><path d="M1,-1.3L6.5,-1.2L8,0L6.5,1.2L1,1.3Z" fill="#555" stroke="#222" stroke-width="0.7"/><path d="M3,-1.3L3.6,1.3M4.6,-1.3L5.2,1.3" stroke="#ddd" stroke-width="0.5" fill="none"/><ellipse cx="0" cy="0" rx="1.7" ry="2.8" fill="#bbb" stroke="#111" stroke-width="1.1"/></g>
<g transform="translate(557.9,591) rotate(215)"><path d="M1,-1.3L6.5,-1.2L8,0L6.5,1.2L1,1.3Z" fill="#555" stroke="#222" stroke-width="0.7"/><path d="M3,-1.3L3.6,1.3M4.6,-1.3L5.2,1.3" stroke="#ddd" stroke-width="0.5" fill="none"/><ellipse cx="0" cy="0" rx="1.7" ry="2.8" fill="#bbb" stroke="#111" stroke-width="1.1"/></g>
<g transform="translate(497.1,553) rotate(-28)"><path d="M1,-1.3L6.5,-1.2L8,0L6.5,1.2L1,1.3Z" fill="#555" stroke="#222" stroke-width="0.7"/><path d="M3,-1.3L3.6,1.3M4.6,-1.3L5.2,1.3" stroke="#ddd" stroke-width="0.5" fill="none"/><ellipse cx="0" cy="0" rx="1.7" ry="2.8" fill="#bbb" stroke="#111" stroke-width="1.1"/></g>
<path class="t" d="M548.5,526.8 L555.3,523.4" style="stroke-dasharray:1.5 1"/>
<path class="ld" d="M515.1,520 L523.7,526.8 M560.5,537.9 L545,565.3 M573.3,554.2 L554,573.9 M497.1,555.9 L495.1,570.5 M557.9,593.6 L557.9,599.9 M497.1,630.4 L507.4,629.5 M531.4,658.6 L528.8,634.1 M505.7,548.2 L486,535.4"/>
</g>
<g id="p20_f7">
<path class="wk" d="M603.7,579.9 L635.3,563.7 L636.3,565.4 L636.3,674.1 L604.9,689.5 L602.8,687.8 Z"/>
<path class="l" d="M604.9,581.6 L604.9,688.6 M635.3,564.9 L635.3,673.2"/>
<path class="l" d="M607.1,584.7 L633.6,571.4 L633.6,632.1 Q623.3,641.5 607.1,642.4"/>
<path class="l" d="M607.1,584.7 L607.1,680.9 M607.1,645 L620.8,651 L634.5,643.6 M620.8,651 L620.8,679.2"/>
<path class="l" d="M619.1,585.9 L630.2,580.8 L630.2,588.5 L619.9,593.6 Z"/>
<path class="t" d="M611.4,585.4 L619.1,586.8 M619.9,593.6 L619.1,585.9"/>
<path class="l" d="M618.2,607 L631,601.8"/>
<path class="l" d="M618.2,608.8 L631,603.7"/>
<path class="l" d="M618.2,610.7 L631,605.6"/>
<path class="l" d="M618.2,612.6 L631,607.5"/>
<path class="l" d="M618.2,614.5 L631,609.4"/>
<path class="l" d="M618.2,616.4 L631,611.2"/>
<path class="l" d="M618.2,618.3 L631,613.1"/>
<path class="l" d="M623.3,662.1 L633.6,656.9 L633.6,667.2 L624.2,671.5 Z"/>
<path class="k" d="M624.7,672.7 L633.6,668.6 M606.2,682.6 L616.5,677.8 M618.2,676.6 L620.3,675.8" style="stroke-dasharray:1.5 1"/>
<path class="k" d="M635.3,624.4 L635.3,639.8" style="stroke-width:1.8"/>
<path class="k" d="M602.8,612.4 L602.8,615.9 M602.8,645.8 L602.8,650.1"/>
<path class="k" d="M598.5,685.7 L602.8,684.3" style="stroke-width:1.6"/>
<path class="w" d="M574.6,574.8 L598.5,562.8 L600.2,564.5 L600.2,585 L596.8,587.6 L596.8,591.9 L583.1,597.9 L582.3,594 L582.3,600.5 L578,603 L574.6,595.3 Z"/>
<path class="l" d="M580.5,582.5 L595.1,574.8 L595.1,585.9 L580.5,592.8 Z" style="stroke-width:1"/>
<path class="l" d="M581.9,583.7 L594.2,577.3 M581.9,583.7 L581.9,591.6"/>
<path class="l" d="M576.3,575.6 L598,564.9" style="stroke-width:1.6;stroke:#444;stroke-dasharray:0.7 0.7"/>
<path class="k" d="M575.4,577.3 L575.4,595.3" style="stroke-dasharray:1 1"/>
<path class="t" d="M598.5,563.7 L598.5,585.9" style="stroke-dasharray:1.2 1"/>
<ellipse class="l" cx="579.2" cy="601.8" rx="0.7" ry="0.7"/>
<path class="w" d="M588.2,600.5 L598.5,595.3 L601.9,597 L601.9,599.6 L591.7,604.7 L588.2,603 Z"/>
<path class="l" d="M588.2,600.5 L591.7,602.2 L601.9,597 M591.7,602.2 L591.7,604.7"/>
<path class="k" d="M605.9,534 L611.7,531.6 M609.3,532.8 Q611.4,537.1 612.2,541.4 L613.4,545.7"/>
<ellipse class="l" cx="613.9" cy="547.4" rx="1.5" ry="2.1"/>
<path class="k" d="M615.6,547 L621.6,546.7" style="stroke-width:1.8"/>
<ellipse class="g" cx="624.5" cy="546.7" rx="2.6" ry="2.6"/>
<ellipse class="w" cx="624.5" cy="546.7" rx="1.2" ry="1.2"/>
<g transform="translate(563.8,574.8) rotate(28)"><path d="M1,-1.3L6,-1.2L7.5,0L6,1.2L1,1.3Z" fill="#555" stroke="#222" stroke-width="0.7"/><path d="M3,-1.3L3.6,1.3M4.6,-1.3L5.2,1.3" stroke="#ddd" stroke-width="0.5" fill="none"/><ellipse cx="0" cy="0" rx="1.7" ry="2.6" fill="#bbb" stroke="#111" stroke-width="1.1"/></g>
<g transform="translate(647,631.6) rotate(205)"><path d="M1,-1.3L6.5,-1.2L8,0L6.5,1.2L1,1.3Z" fill="#555" stroke="#222" stroke-width="0.7"/><path d="M3,-1.3L3.6,1.3M4.6,-1.3L5.2,1.3" stroke="#ddd" stroke-width="0.5" fill="none"/><ellipse cx="0" cy="0" rx="1.7" ry="2.8" fill="#bbb" stroke="#111" stroke-width="1.1"/></g>
<path class="t" d="M569.4,577.3 L574.6,579.9 M637,627 L642.2,629.6"/>
<path class="ld" d="M624.7,526.8 L623.9,543.6 M655,597 L637,603.9 M653.3,643.3 L647,634.4 M651.6,676.6 L635.7,670.6 M587.4,670.6 L601.1,685.2 M590.8,622.7 L594.6,605.1 M570.3,615 L579.2,602.5 M572,551.7 L560,563.1 M596.8,601.3 L623.7,616.7 M582.3,585.9 L595.1,591.9"/>
</g>
<g id="p21_a8">
<path class="w" d="M392,621.6 Q393.5,613.5 406.2,611.7 L408,614.1 L410.5,612.8 L409,610.3 Q413.7,608.5 418.8,609.8 Q426.3,615.4 424,624.5 Q418.4,631 401.5,631 Q392,628.2 392,621.6 Z"/>
<path class="k" d="M415.6,618.8 L421.2,619.2 M398.6,627.3 L400.5,627.3 M405.2,627.3 L409,626.9"/>
<path class="w" d="M398.6,644.2 Q399.6,638 409,636.9 Q416.5,637.6 417.6,645.2 L421.2,651.7 Q422.2,656.5 416.5,658.7 L409.9,658.3 Q407.1,654.6 398.6,647 Z"/>
<path class="k" d="M399.2,647 L409,656.5 M409.9,658.3 L419.3,655.5" style="stroke-width:1.8;stroke-dasharray:0.7 0.7"/>
<path class="k" d="M404.8,643.7 L407.1,643.3 M413.7,654.6 L415.6,654.2"/>
<path class="w" d="M394.7,671.5 L394.7,725.1 Q399.6,734.5 415.6,735.1 Q431.6,734.5 435.7,725.1 L435.7,671.5"/>
<ellipse class="wk" cx="415.2" cy="671.5" rx="20.5" ry="9"/>
<ellipse class="l" cx="415.2" cy="672.3" rx="18.8" ry="7.9"/>
<path class="l" d="M399.6,682.8 Q400.5,677.2 415.6,676.2 Q429.7,677.2 430.6,682.8 Q429.7,688.4 415.6,689.4 Q401.5,688.4 399.6,682.8 Z"/>
<path class="t" d="M399.6,682.8 L399.6,726.1 M430.6,682.8 L430.6,720.4" style="stroke-dasharray:2 1.5"/>
<path class="k" d="M409,684.7 L409,734" style="stroke-dasharray:2 1.2"/>
<path class="t" d="M401.5,729.8 Q415.6,731.7 430.6,722.3" style="stroke-dasharray:2 1.5"/>
<path class="k" d="M403.7,690.3 L403.7,705.4 M413.7,690.3 L413.7,705.4" style="stroke-width:1.6;stroke-dasharray:1 0.8"/>
<path class="l" d="M401.5,692.2 L406.2,692.2 M411.2,692.2 L416.1,692.2 M417.4,692.2 L427.8,688.4"/>
<ellipse class="l" cx="404.8" cy="723.3" rx="1.5" ry="1.5"/>
<ellipse class="l" cx="413.1" cy="724.6" rx="1.5" ry="1.5"/>
<path class="t" d="M396.7,675.3 L396.7,726.1"/>
<ellipse class="d" cx="421.2" cy="670.2" rx="0.5" ry="0.5"/>
<ellipse class="d" cx="420.3" cy="680.9" rx="0.5" ry="0.5"/>
<path class="ld" d="M374.2,620.3 L392,622.2 M373.2,639.1 L398.6,643.7 M453.2,670 L421.8,670.2 M453.2,687.5 L420.8,681.1"/>
</g>
<g id="p22_a1">
<path class="l" d="M285.3,754.5 L286.4,762 M289.6,778.2 L324,794.3 L324,790 M321.9,770.6 L321.9,780.3"/>
<path class="w" d="M234.9,730.6 L239.2,726 L243.5,727.1 L247.3,732.2 L246.2,736.5 L241.4,738.9 L236.6,736.2 Z"/>
<path class="k" d="M236.6,731.4 Q239.2,727.6 243,729.2 Q245.7,731.4 244.6,735.2 M237.1,733 L241.4,735.2 L245.2,733 M241.4,735.2 L241.4,738.6 M238.2,728.7 L240.3,731.4 M242.5,727.6 L240.9,731.4"/>
<path class="ld" d="M240.6,702.9 L240.6,725.5"/>
<ellipse class="g" cx="234.2" cy="736.5" rx="3" ry="4.1" transform="rotate(-20 234.2 736.5)"/>
<path class="k" d="M231.7,734.6 L236.6,737.3 M231.4,736.2 L236.3,738.9 M232,733 L236.8,735.7 M232.3,738.4 L235.5,740.3" style="stroke-width:1.3"/>
<path class="ld" d="M219.4,715.3 L232.3,733"/>
<path class="w" d="M250,732.5 L253.8,736.5 L260.2,735.4 L265.8,731.1 L264.5,728.7 L263.4,731.4 L259.1,733 L254.8,733.5 L251.6,731.7 Z"/>
<path class="k" d="M251.6,735.2 L253.2,738.4 L257.5,737.8 L258.1,735.2 M260.2,733.5 L261.8,734.6"/>
<path class="ld" d="M257,721.2 L257.5,732.5"/>
<path class="l" d="M226,737.8 L226.7,742.7 Q227.7,747.5 232.3,750.8 L238.7,754.3 Q244.1,756.1 247.3,759.9" style="stroke-width:3.4;stroke:#222"/>
<path class="l" d="M226,737.8 L226.7,742.7 Q227.7,747.5 232.3,750.8 L238.7,754.3 Q244.1,756.1 247.3,759.9" style="stroke-width:2.0999999999999996;stroke:#fff"/>
<path class="l" d="M226,737.8 L226.7,742.7 Q227.7,747.5 232.3,750.8 L238.7,754.3 Q244.1,756.1 247.3,759.9" style="stroke-width:2.2;stroke:#666;stroke-dasharray:0.6 1.1"/>
<ellipse class="w" cx="225.8" cy="735.2" rx="3" ry="2.9"/>
<path class="l" d="M224.2,733.5 Q225.8,732.5 227.4,733.5"/>
<path class="l" d="M241.4,745.4 Q242.5,742.2 245.7,741.4 L249.7,741.4" style="stroke-width:2.6;stroke:#222"/>
<path class="l" d="M241.4,745.4 Q242.5,742.2 245.7,741.4 L249.7,741.4" style="stroke-width:1.3;stroke:#fff"/>
<path class="l" d="M241.4,745.4 Q242.5,742.2 245.7,741.4 L249.7,741.4" style="stroke-width:1.4000000000000001;stroke:#666;stroke-dasharray:0.6 1.1"/>
<ellipse class="w" cx="250.5" cy="742.7" rx="1.5" ry="1.3"/>
<path class="g" d="M239.8,753.4 Q243,751.8 246.2,754.5 Q248.4,757.2 246.8,759.4 Q243.5,761 240.9,758.3 Z" style="fill:#888"/>
<path class="l" d="M241.4,755.1 L245.7,757.7 M240.9,756.7 L244.6,759.4" style="stroke:#fff"/>
<ellipse class="w" cx="249.2" cy="761.8" rx="1.5" ry="1.3"/>
<path class="ld" d="M210.8,750.2 L225.8,748.1"/>
<path class="k" d="M246.2,761.5 L246.5,768" style="stroke-width:1.6"/>
<ellipse class="wk" cx="246.5" cy="769.8" rx="3.5" ry="2.2"/>
<ellipse class="l" cx="246.5" cy="769.1" rx="2.4" ry="1.3"/>
<path class="ld" d="M224.2,770.1 L242.5,770.4"/>
<path class="l" d="M239.8,740.5 L239.8,781.4 L281.7,756.7"/>
<path class="w" d="M269.2,771.3 L269.2,815.8 Q281,821.6 292.8,815.8 L292.8,771.3"/>
<ellipse class="w" cx="281" cy="771.3" rx="11.8" ry="5.4"/>
<path class="k" d="M269.2,771.3 L269.2,815.8" style="stroke-width:1.6"/>
<path class="l" d="M270.3,776 Q281,782 292.8,776"/>
<path class="w" d="M282.1,764.2 L286.4,761.4 L291.3,764.2 L291.3,769.6 L287,772.2 L282.1,769.1 Z"/>
<path class="l" d="M282.1,764.2 L287,767 L291.3,764.2 M287,767 L287,772.2"/>
<ellipse class="l" cx="277.8" cy="772.2" rx="1.3" ry="1.9"/>
<path class="k" d="M285.3,755.6 L287.5,762"/>
<path class="w" d="M281,787.8 L281,810.4 Q288.5,814.7 295.6,810.4 L295.6,787.8 Q288.5,781.4 281,787.8 Z"/>
<path class="l" d="M281,793.2 Q288.5,797.1 295.6,793.2 M281,799.7 Q288.5,803.5 295.6,799.7 M281,805.1 Q288.5,808.9 295.6,805.1"/>
<path class="k" d="M287.9,782.9 L287.9,777.1 Q289.6,774.9 291.8,777.1"/>
<path class="k" d="M278.9,786.8 L278.9,791.1 M295.6,788.9 L297.8,790" style="stroke-width:1.8"/>
<path class="g" d="M268.1,814.3 Q281,823.3 294.4,815.8 L292.8,819 Q281,824.4 269.2,818 Z" style="fill:#666"/>
<path class="k" d="M269.2,812.6 L273.5,814.3 M289.6,814.7 L293.9,816.5" style="stroke-width:1.8"/>
<path class="w" d="M267.3,820.8 L271.6,820.8 L272.2,829.8 L266.6,829.8 Z"/>
<path class="l" d="M269.4,816.9 L269.4,820.8 M269.4,829.8 L269.4,838.4"/>
<path class="k" d="M268.1,823.3 L270.7,823.3"/>
<ellipse class="g" cx="263.8" cy="807.8" rx="1.9" ry="1.9"/>
<ellipse class="g" cx="319.3" cy="805.1" rx="2.6" ry="2.2"/>
<ellipse class="w" cx="319.3" cy="805.1" rx="1.1" ry="0.9"/>
<path class="l" d="M296.1,791.1 L317.2,803.5"/>
<path class="w" d="M314.8,782.9 L314.8,787.8 Q321.9,792.2 329,787.8 L329,782.9"/>
<ellipse class="w" cx="321.9" cy="782.9" rx="7.1" ry="3.2"/>
<circle cx="321.9" cy="764.8" r="5.8" fill="#fff" stroke="#222" stroke-width="0.8"/>
<text x="321.9" y="768.1" font-size="9" text-anchor="middle">F</text>
<circle cx="262.7" cy="750.6" r="6" fill="#fff" stroke="#222" stroke-width="0.8"/>
<text x="262.7" y="753.9" font-size="9" text-anchor="middle">A</text>
<path class="ld" d="M263.4,756.7 L278.9,767.4"/>
<path class="ld" d="M252,791.1 L269.2,794.3 M252,807.2 L261.7,807.8 M284.2,830.9 L272.8,826.8 M339.1,761 L328.8,780.3"/>
</g>
<g id="p23_f1">
<path class="w" d="M169.2,826.3 L207.2,805.7 L322.1,869.8 L321.6,874.7 L282.2,896.5 L276.1,895.2 L169.7,832.3 Z"/>
<path class="k" d="M169.2,826.3 L279.8,891.1 L322.1,869.8 M279.8,891.1 L282.2,896.5"/>
<path class="l" d="M175,826.8 L207.2,809.8 L314.8,870.6 L281,888 Z"/>
<path class="l" d="M178.1,828.7 L203.5,815.4 L212,820.2 L212,823.9 L222.9,823.9 L226.5,820.2"/>
<path class="l" d="M203.5,837.2 L226.5,825.8 L260.4,844.4 L255.6,850.5 L239.8,849.3 L230.2,854.8 Z"/>
<path class="k" d="M220.5,831.6 L230.2,826.8 L256.8,842 L247.6,847.1 Z"/>
<path class="t" d="M223.4,832.6 L230.2,829.2 L253.1,842 L247.1,845.2 Z"/>
<path class="l" d="M212,834.8 L235,848.1 M209.6,837.2 L232.6,850.5"/>
<path class="l" d="M221.7,855.3 L229,851.7 L255.6,866.9 L253.1,870.3 L261.6,874.7 L258,865 L255.6,860.2 L261.6,857.3 L266.5,862.6 L266,869.8 L270.1,883.1 L264,885.6 L259.2,873.5 L251.5,871 Z"/>
<path class="t" d="M225.3,854.8 L253.1,869.8"/>
<path class="l" d="M266.5,846.9 L266.5,862.6 M270.1,833.5 L270.1,884.8 M272.5,850.5 L273.7,869.8"/>
<path class="l" d="M276.1,859 L285.8,855.3 L295.5,862.6 L291.9,867.4 L305.2,873.5 L302.7,879.5 L290.6,883.1 L285.8,874.7 L279.8,873.5 L278.5,865 Z"/>
<path class="k" d="M281,869.8 L284.6,877.1 M288.2,881.9 L291.9,885.6 M299.1,867.4 L307.6,869.8 L311.2,873.5"/>
<path class="k" d="M289.4,884.4 L305.2,877.6" style="stroke-width:1.8;stroke-dasharray:0.8 0.8"/>
<path class="l" d="M305.2,868.6 L308.1,865 L311.9,867.9"/>
<ellipse class="l" cx="203.5" cy="828.7" rx="0.7" ry="0.7"/>
<ellipse class="l" cx="261.6" cy="866.9" rx="0.7" ry="0.7"/>
<ellipse class="l" cx="229" cy="833.1" rx="0.7" ry="0.7"/>
<ellipse class="l" cx="248.3" cy="842.7" rx="0.7" ry="0.7"/>
<ellipse class="l" cx="238.6" cy="839.6" rx="0.7" ry="0.7"/>
<ellipse class="l" cx="282.9" cy="872.3" rx="0.7" ry="0.7"/>
<path class="l" d="M175.7,838.4 L176.5,842.7 L180.6,845.2 L184.2,842.7 M239.8,873.5 L241,876.6 L244.7,878.3 M256.8,888 L257.3,891.6 L261.6,894.5 L266.5,892.1"/>
<path class="t" d="M178.1,831.1 L275.6,889.2"/>
<g transform="translate(323.3,894) rotate(205)"><path d="M1,-1.3L6.5,-1.2L8,0L6.5,1.2L1,1.3Z" fill="#555" stroke="#222" stroke-width="0.7"/><path d="M3,-1.3L3.6,1.3M4.6,-1.3L5.2,1.3" stroke="#ddd" stroke-width="0.5" fill="none"/><ellipse cx="0" cy="0" rx="1.7" ry="2.8" fill="#bbb" stroke="#111" stroke-width="1.1"/></g>
<path class="t" d="M307.6,885.6 L318.5,891.1" style="stroke-dasharray:1.5 1"/>
<path class="ld" d="M326.9,890.4 L334.7,885.6 M225.3,902.5 L230.2,871.8"/>
</g>
<g id="p24_b2">
<path class="l" d="M448.9,878.1 L510,845.4"/>
<path class="l" d="M415.6,797.6 L403.8,804.1 Q399.9,806.7 399.9,812 L399.9,837.8" style="stroke-width:2.0;stroke:#222"/>
<path class="l" d="M415.6,797.6 L403.8,804.1 Q399.9,806.7 399.9,812 L399.9,837.8" style="stroke-width:1.0;stroke:#fff"/>
<path class="l" d="M399.9,859.4 L399.9,863 Q401.6,868.6 405.1,866.9 Q406.8,864.7 406.3,860.4 L406.3,814.2 Q406.3,809.9 410.2,807.1 L414.5,804.1" style="stroke-width:2.0;stroke:#222"/>
<path class="l" d="M399.9,859.4 L399.9,863 Q401.6,868.6 405.1,866.9 Q406.8,864.7 406.3,860.4 L406.3,814.2 Q406.3,809.9 410.2,807.1 L414.5,804.1" style="stroke-width:1.0;stroke:#fff"/>
<path class="k" d="M399.9,811 L399.9,836.8" style="stroke-dasharray:1 1;stroke-width:1.3"/>
<path class="w" d="M396.2,841.1 Q396.2,837.2 399.9,837.2 Q403.3,837.2 403.3,841.1 L403.3,856.1 Q403.3,860 399.9,860 Q396.2,860 396.2,856.1 Z"/>
<path class="l" d="M413.7,802.4 L414.1,832.9" style="stroke-width:1.8;stroke:#222"/>
<path class="l" d="M413.7,802.4 L414.1,832.9" style="stroke-width:0.8;stroke:#fff"/>
<path class="w" d="M407.6,791.6 L410.6,789 L422,793.8 L419.2,797 Z"/>
<path class="g" d="M419.9,791.2 L428.5,787.7 L433.4,790.5 L433.4,796.3 L425.7,800.6 L419.9,797 Z" style="fill:#bbb"/>
<path class="k" d="M421,792.7 L431.7,789 M422,794.8 L432.8,791.6 M423.1,797 L433.4,793.8"/>
<path class="l" d="M410.6,784.1 L411.1,789"/>
<path class="k" d="M414.5,797 L424.2,802.4 L430.6,804.5" style="stroke-width:1.5"/>
<path class="l" d="M430,786.2 L431.7,806.7 L431.3,869 Q431.7,873.8 435.6,875.1" style="stroke-width:2.0;stroke:#222"/>
<path class="l" d="M430,786.2 L431.7,806.7 L431.3,869 Q431.7,873.8 435.6,875.1" style="stroke-width:1.0;stroke:#fff"/>
<path class="k" d="M431.5,808.8 L431.3,866.9" style="stroke-dasharray:1 1;stroke-width:1.2"/>
<path class="l" d="M433.4,791.2 L440.3,797.6 Q444.6,799.1 448.5,794.2 Q452.8,792.7 453.2,798.1 L452.8,818.5" style="stroke-width:1"/>
<path class="g" d="M416.7,815.7 L426.3,812 L427.8,824.9 L418.4,829.2 Z" style="fill:#ddd;stroke-width:1.1"/>
<path class="l" d="M418.4,817.4 L425.7,814.6 L426.6,823.9 L419.5,826.9 Z"/>
<path class="k" d="M416.2,816.3 L416.2,830.3 L418.4,829.2"/>
<path class="l" d="M432.8,815.3 L441.4,820 L444.6,860.4 Q444.2,865.2 440.8,864.7 Q437.7,863.7 437.7,859.4 L436,822.2" style="stroke-width:2.0;stroke:#222"/>
<path class="l" d="M432.8,815.3 L441.4,820 L444.6,860.4 Q444.2,865.2 440.8,864.7 Q437.7,863.7 437.7,859.4 L436,822.2" style="stroke-width:1.0;stroke:#fff"/>
<path class="k" d="M442.9,823.9 L444.2,858.3" style="stroke-dasharray:1 1;stroke-width:1.2"/>
<path class="k" d="M430,821.7 L433.4,821.7 M434.9,851.8 L438.2,852.3"/>
<ellipse class="g" cx="437.1" cy="872.3" rx="1.9" ry="1.7"/>
<ellipse class="g" cx="443.5" cy="875.1" rx="2.2" ry="1.9"/>
<ellipse class="g" cx="449.4" cy="870.8" rx="1.5" ry="1.4"/>
<ellipse class="g" cx="455.8" cy="867.3" rx="2.2" ry="1.9"/>
<ellipse class="g" cx="436" cy="879.4" rx="1.7" ry="1.5"/>
<ellipse class="g" cx="444.6" cy="879.8" rx="1.7" ry="1.5"/>
<path class="l" d="M434.9,875.5 L445.7,880.9 M438.2,870.1 L457.5,865.8"/>
<path class="w" d="M382.3,803.9 L391.9,800.2 L394.1,808.4 L385.5,812 L382.3,809.2 Z"/>
<path class="l" d="M382.3,803.9 L385.5,806.7 L394.1,803.4 M385.5,806.7 L385.5,812 M386.1,801.3 L387.6,804.5"/>
<circle cx="413.4" cy="839.4" r="5.6" fill="#fff" stroke="#222" stroke-width="0.8"/>
<text x="413.4" y="842.6" font-size="9" text-anchor="middle">A</text>
<circle cx="423.8" cy="849.2" r="5.6" fill="#fff" stroke="#222" stroke-width="0.8"/>
<text x="423.8" y="852.5" font-size="9" text-anchor="middle">F</text>
<circle cx="452.8" cy="824.3" r="5.6" fill="#fff" stroke="#222" stroke-width="0.8"/>
<text x="452.8" y="827.5" font-size="9" text-anchor="middle">E</text>
<path class="t" d="M418.4,835.7 L423.5,835.7 L423.8,843.7"/>
<path class="ld" d="M378,794.8 L384.4,802.8 M390.9,779.8 L412.8,804.5 M432.8,774.4 L429.1,786.2 M461.8,808.8 L433.9,806.7 M456.5,849.7 L445.1,846.7 M386.6,846.5 L396.2,845.4 M394.1,862.6 L400.8,864.1 M488.7,875.5 L458.6,868.6 M471.5,888.4 L450.6,872.9 M459.7,898.1 L444.6,880.9 M442.5,909.9 L437.1,880.9 M487.6,770.1 L501.6,798.5"/>
</g>
<g id="p25_b3">
<path class="l" d="M480,862 L524.1,838"/>
<ellipse class="w" cx="519.8" cy="699.7" rx="1.7" ry="1.5"/>
<path class="l" d="M519.4,701.8 L520,720.1 L523,719 L523,711.5" style="stroke-width:1.6;stroke:#222"/>
<path class="l" d="M519.4,701.8 L520,720.1 L523,719 L523,711.5" style="stroke-width:0.6000000000000001;stroke:#fff"/>
<path class="w" d="M524.1,706.8 Q524.1,703.3 528.4,703.3 Q532.9,703.3 532.9,706.8 L532.9,710.4 Q532.9,713.2 528.4,713.2 Q524.1,713.2 524.1,710.4 Z"/>
<ellipse class="l" cx="528.4" cy="706.8" rx="2.6" ry="1.7"/>
<path class="k" d="M528.4,713.2 L528.4,739.9"/>
<path class="w" d="M526,741.2 Q526,739.5 528.6,739.5 Q531.2,739.5 531.2,741.2 L531.2,747 L526,747 Z"/>
<path class="l" d="M528.4,747 L528.4,762" style="stroke-width:1.6;stroke:#222"/>
<path class="l" d="M528.4,747 L528.4,762" style="stroke-width:0.6000000000000001;stroke:#fff"/>
<path class="w" d="M526.9,762.7 L529.9,762.7 L529.9,767.4 L528.4,769.1 L526.9,767.4 Z"/>
<path class="l" d="M528.4,769.1 L528.4,780.3 Q527.7,784.6 524.1,786.3 L500.4,800.8" style="stroke-width:1.8;stroke:#222"/>
<path class="l" d="M528.4,769.1 L528.4,780.3 Q527.7,784.6 524.1,786.3 L500.4,800.8" style="stroke-width:0.8;stroke:#fff"/>
<path class="l" d="M530.8,748.5 L536.3,748.5 Q537.6,749.1 537.6,751.3 L537.6,762" style="stroke-width:1.5;stroke:#222"/>
<path class="l" d="M530.8,748.5 L536.3,748.5 Q537.6,749.1 537.6,751.3 L537.6,762" style="stroke-width:0.5;stroke:#fff"/>
<path class="k" d="M537.6,762 L537.6,769.6" style="stroke-dasharray:1.5 1"/>
<circle cx="537.6" cy="775.6" r="5.8" fill="#fff" stroke="#222" stroke-width="0.8"/>
<text x="537.6" y="778.8" font-size="9" text-anchor="middle">H</text>
<path class="w" d="M506.9,746.3 L512.3,743.3 L513.3,745.9 L518.7,742.9 L520.4,746.3 L510.1,752.4 L507.5,751.3 Z"/>
<path class="l" d="M506.9,746.3 L509.7,748.1 L509.7,752.4 M509.7,748.1 L513.3,745.9"/>
<path class="w" d="M500.4,800.8 L501.5,807.2 L505.8,809.4 L510.1,807.2 L509,801.8 Z"/>
<ellipse class="g" cx="503.7" cy="805.1" rx="1.9" ry="2.6"/>
<ellipse class="g" cx="508" cy="806.1" rx="1.7" ry="2.2"/>
<ellipse class="g" cx="513.3" cy="801.8" rx="1.5" ry="1.5"/>
<ellipse class="g" cx="517.8" cy="798.6" rx="1.7" ry="1.5"/>
<path class="k" d="M510.1,804 L516.6,799.7" style="stroke-width:1.6"/>
<path class="w" d="M524.1,816.9 L535.9,811.5 L537,840.5 L524.1,849.1 L521.9,845.9 L523,819 Z"/>
<path class="l" d="M526.2,818 L526.2,846.6 M524.1,816.9 L526.2,818 L535.9,813"/>
<ellipse class="l" cx="532" cy="820.1" rx="1.5" ry="2.2"/>
<ellipse class="l" cx="532" cy="838.4" rx="1.7" ry="2.6"/>
<ellipse class="l" cx="533.3" cy="828.7" rx="1.1" ry="1.7"/>
<path class="t" d="M528.4,823.3 L528.4,840.5 M524.1,831.9 L536.3,827.6"/>
<path class="k" d="M535.5,810.4 L536.3,813.7"/>
<g transform="translate(549.2,827.2) rotate(205)"><path d="M1,-1.3L6.5,-1.2L8,0L6.5,1.2L1,1.3Z" fill="#555" stroke="#222" stroke-width="0.7"/><path d="M3,-1.3L3.6,1.3M4.6,-1.3L5.2,1.3" stroke="#ddd" stroke-width="0.5" fill="none"/><ellipse cx="0" cy="0" rx="1.7" ry="2.6" fill="#bbb" stroke="#111" stroke-width="1.1"/></g>
<g transform="translate(548.4,845.3) rotate(205)"><path d="M1,-1.3L6.5,-1.2L8,0L6.5,1.2L1,1.3Z" fill="#555" stroke="#222" stroke-width="0.7"/><path d="M3,-1.3L3.6,1.3M4.6,-1.3L5.2,1.3" stroke="#ddd" stroke-width="0.5" fill="none"/><ellipse cx="0" cy="0" rx="1.7" ry="2.6" fill="#bbb" stroke="#111" stroke-width="1.1"/></g>
<path class="w" d="M593.5,743.8 L621.9,759.2 L622.4,829.8 L615.1,833 L614.6,824.4 L605.8,829.4 L604.7,812.6 L594,817.3 L593.5,776 Z"/>
<path class="k" d="M593.5,776 L621.9,762 M594,745.5 L620.9,761"/>
<path class="l" d="M593.5,756.7 L605.8,764.2 M595.1,776.5 L595.5,815.8"/>
<path class="ld" d="M546.7,705.1 L533.8,708.3 M547.7,736.2 L531.6,741.6 M553.1,767 L538.5,766.3 M539.1,797.1 L520,798 M539.1,810.4 L515.5,803.3 M517.6,814.7 L509,807.8 M500.4,726.6 L508,745.3 M488.6,770.6 L501.5,798.6 M538.1,858.8 L532.7,845.3 M561.3,858.8 L549.9,830.2 M561.3,858.8 L549.9,847.4 M612.3,727.6 L608.6,750.6 M480,874.9 L488.6,877.1 M510.1,807.8 L528.4,814.7"/>
</g>
<g class="lb">
<text transform="translate(405.6,175.5) scale(0.625,1)">F14</text>
<text transform="translate(273.0,191.8) scale(0.625,1)">E4-1</text>
<text transform="translate(354.0,210.8) scale(0.625,1)">E4</text>
<text transform="translate(514.5,206.5) scale(0.625,1)">F17</text>
<text transform="translate(248.0,219.8) scale(0.625,1)">E12</text>
<text transform="translate(233.0,285.3) scale(0.625,1)">E14</text>
<text transform="translate(280.0,290.8) scale(0.625,1)">E6</text>
<text transform="translate(303.0,290.8) scale(0.625,1)">E6-1</text>
<text transform="translate(365.0,276.8) scale(0.625,1)">E5</text>
<text transform="translate(444.0,272.3) scale(0.625,1)">F18-1</text>
<text transform="translate(414.0,289.3) scale(0.625,1)">F18</text>
<text transform="translate(566.0,306.8) scale(0.625,1)">F14</text>
<text transform="translate(115.0,288.8) scale(0.625,1)">F9</text>
<text transform="translate(414.0,329.8) scale(0.625,1)">B22</text>
<text transform="translate(495.0,328.8) scale(0.625,1)">B22</text>
<text transform="translate(528.0,316.8) scale(0.625,1)">F21</text>
<text transform="translate(582.0,331.8) scale(0.625,1)">C3</text>
<text transform="translate(193.0,329.8) scale(0.625,1)">E24</text>
<text transform="translate(182.0,348.8) scale(0.625,1)">E23</text>
<text transform="translate(187.0,369.8) scale(0.625,1)">E1</text>
<text transform="translate(260.0,357.8) scale(0.625,1)">E6-1</text>
<text transform="translate(304.0,386.0) scale(0.625,1)">E8-2</text>
<text transform="translate(330.0,380.8) scale(0.625,1)">E8</text>
<text transform="translate(351.0,398.8) scale(0.625,1)">E8-1</text>
<text transform="translate(363.0,413.8) scale(0.625,1)">E8-6</text>
<text transform="translate(371.0,432.0) scale(0.625,1)">E8-4</text>
<text transform="translate(284.0,437.8) scale(0.625,1)">E8-3</text>
<text transform="translate(312.0,444.8) scale(0.625,1)">E8-5</text>
<text transform="translate(264.0,465.8) scale(0.625,1)">E3</text>
<text transform="translate(393.0,397.8) scale(0.625,1)">B1</text>
<text transform="translate(96.0,422.8) scale(0.625,1)">F14</text>
<text transform="translate(144.0,459.8) scale(0.625,1)">F3</text>
<text transform="translate(353.0,456.8) scale(0.625,1)">F12</text>
<text transform="translate(164.0,470.8) scale(0.625,1)">F14</text>
<text transform="translate(176.0,514.6) scale(0.625,1)">F4</text>
<text transform="translate(159.7,530.8) scale(0.625,1)">F14</text>
<text transform="translate(98.2,518.0) scale(0.625,1)">C4</text>
<text transform="translate(291.0,514.8) scale(0.625,1)">C2</text>
<text transform="translate(399.0,525.8) scale(0.625,1)">E20</text>
<text transform="translate(422.0,517.8) scale(0.625,1)">F15</text>
<text transform="translate(498.0,497.8) scale(0.625,1)">F6</text>
<text transform="translate(601.0,463.8) scale(0.625,1)">B1-2</text>
<text transform="translate(580.0,477.8) scale(0.625,1)">B20</text>
<text transform="translate(580.0,497.8) scale(0.625,1)">B1-1</text>
<text transform="translate(578.0,518.8) scale(0.625,1)">B16</text>
<text transform="translate(495.0,519.6) scale(0.625,1)">F2-1</text>
<text transform="translate(614.0,524.8) scale(0.625,1)">E22</text>
<text transform="translate(561.0,539.8) scale(0.625,1)">E19</text>
<text transform="translate(572.0,553.8) scale(0.625,1)">E18</text>
<text transform="translate(358.7,563.0) scale(0.625,1)">C1</text>
<text transform="translate(163.2,560.8) scale(0.625,1)">F14</text>
<text transform="translate(82.0,596.8) scale(0.625,1)">F15</text>
<text transform="translate(335.0,597.8) scale(0.625,1)">F14</text>
<text transform="translate(416.0,573.8) scale(0.625,1)">F5</text>
<text transform="translate(488.7,582.6) scale(0.625,1)">F15</text>
<text transform="translate(550.0,613.2) scale(0.625,1)">F15</text>
<text transform="translate(562.0,628.6) scale(0.625,1)">F8</text>
<text transform="translate(656.0,602.8) scale(0.625,1)">F7</text>
<text transform="translate(579.0,635.8) scale(0.625,1)">F7-1</text>
<text transform="translate(485.0,636.8) scale(0.625,1)">F2</text>
<text transform="translate(204.4,638.8) scale(0.625,1)">F14</text>
<text transform="translate(190.0,659.0) scale(0.625,1)">F15</text>
<text transform="translate(225.0,651.8) scale(0.625,1)">F22</text>
<text transform="translate(353.5,626.0) scale(0.625,1)">A10</text>
<text transform="translate(353.5,644.8) scale(0.625,1)">A13</text>
<text transform="translate(251.0,671.8) scale(0.625,1)">F14</text>
<text transform="translate(335.0,682.8) scale(0.625,1)">F14</text>
<text transform="translate(522.0,669.8) scale(0.625,1)">F2-2</text>
<text transform="translate(648.0,656.8) scale(0.625,1)">F15</text>
<text transform="translate(575.0,668.8) scale(0.625,1)">F7-3</text>
<text transform="translate(654.0,685.8) scale(0.625,1)">F7-2</text>
<text transform="translate(454.0,674.8) scale(0.625,1)">A8</text>
<text transform="translate(454.0,693.8) scale(0.625,1)">A9</text>
<text transform="translate(86.0,686.8) scale(0.625,1)">F15</text>
<text transform="translate(150.0,726.8) scale(0.625,1)">F15</text>
<text transform="translate(234.0,700.8) scale(0.625,1)">A4</text>
<text transform="translate(212.0,714.8) scale(0.625,1)">A5</text>
<text transform="translate(249.0,718.8) scale(0.625,1)">A6</text>
<text transform="translate(550.0,707.8) scale(0.625,1)">E16</text>
<text transform="translate(550.0,722.8) scale(0.625,1)">E16-1</text>
<text transform="translate(604.0,726.8) scale(0.625,1)">A14</text>
<text transform="translate(485.0,726.8) scale(0.625,1)">B3-4</text>
<text transform="translate(550.0,741.8) scale(0.625,1)">B3</text>
<text transform="translate(550.0,754.8) scale(0.625,1)">B3-1</text>
<text transform="translate(468.0,754.8) scale(0.625,1)">B3-3</text>
<text transform="translate(468.0,768.8) scale(0.625,1)">B3-3-1</text>
<text transform="translate(555.0,773.8) scale(0.625,1)">B3-2</text>
<text transform="translate(192.0,757.8) scale(0.625,1)">E25</text>
<text transform="translate(206.0,775.8) scale(0.625,1)">E13</text>
<text transform="translate(331.0,760.8) scale(0.625,1)">B15</text>
<text transform="translate(398.0,762.8) scale(0.625,1)">B2</text>
<text transform="translate(398.0,775.8) scale(0.625,1)">B2-1</text>
<text transform="translate(425.0,772.8) scale(0.625,1)">B2-2</text>
<text transform="translate(379.5,780.3) scale(0.625,1)">B6</text>
<text transform="translate(364.0,794.8) scale(0.625,1)">B21</text>
<text transform="translate(240.0,795.8) scale(0.625,1)">A1</text>
<text transform="translate(239.3,814.1) scale(0.625,1)">A3</text>
<text transform="translate(285.0,837.8) scale(0.625,1)">A2</text>
<text transform="translate(463.0,800.8) scale(0.625,1)">B2-4</text>
<text transform="translate(463.0,813.8) scale(0.625,1)">B2-4-1</text>
<text transform="translate(541.0,802.8) scale(0.625,1)">B11</text>
<text transform="translate(541.0,816.8) scale(0.625,1)">B12</text>
<text transform="translate(502.0,827.8) scale(0.625,1)">B10</text>
<text transform="translate(354.5,853.3) scale(0.625,1)">B2-3-1</text>
<text transform="translate(371.0,867.8) scale(0.625,1)">B2-3</text>
<text transform="translate(457.0,857.8) scale(0.625,1)">B2-5</text>
<text transform="translate(530.0,870.8) scale(0.625,1)">F11</text>
<text transform="translate(553.0,870.8) scale(0.625,1)">F16</text>
<text transform="translate(490.0,882.8) scale(0.625,1)">B8</text>
<text transform="translate(471.0,896.8) scale(0.625,1)">B9</text>
<text transform="translate(455.0,908.8) scale(0.625,1)">B7</text>
<text transform="translate(435.0,920.8) scale(0.625,1)">B4</text>
<text transform="translate(435.0,934.8) scale(0.625,1)">B4-1</text>
<text transform="translate(331.0,883.8) scale(0.625,1)">F15</text>
<text transform="translate(220.0,914.8) scale(0.625,1)">F1</text>
</g>
</svg></body></html>
